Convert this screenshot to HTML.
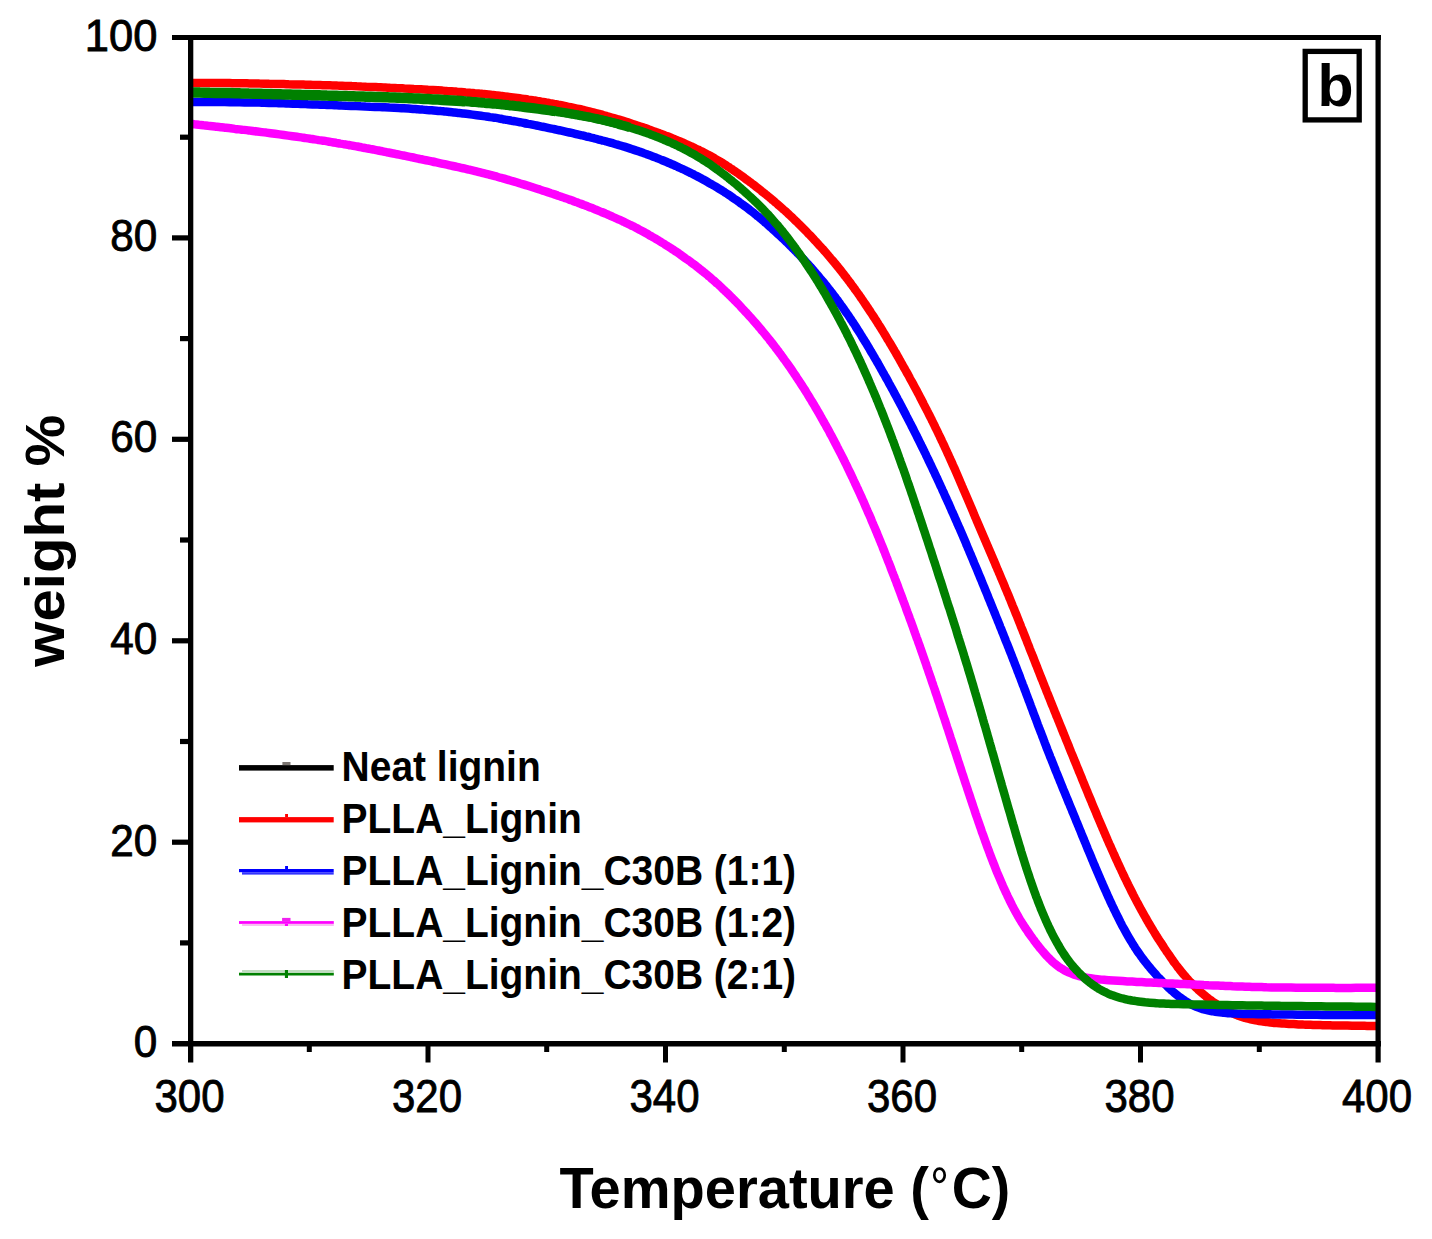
<!DOCTYPE html><html><head><meta charset="utf-8"><style>html,body{margin:0;padding:0;background:#fff;width:1432px;height:1239px;overflow:hidden}svg{display:block}text{font-family:"Liberation Sans",sans-serif}</style></head><body>
<svg width="1432" height="1239" viewBox="0 0 1432 1239">
<rect width="1432" height="1239" fill="#fff"/>
<defs><clipPath id="c"><rect x="193" y="40" width="1183" height="1001"/></clipPath></defs>
<g clip-path="url(#c)" fill="none" stroke-width="8.5" stroke-linejoin="round" stroke-linecap="butt">
<path d="M190.0,82.9 C190.8,82.9 193.3,82.9 195.0,82.9 C196.6,82.9 198.3,82.9 200.0,82.9 C201.6,82.9 203.3,83.0 204.9,83.0 C206.6,83.0 208.3,83.0 209.9,83.0 C211.6,83.0 213.2,83.0 214.9,83.0 C216.5,83.0 218.2,83.0 219.9,83.0 C221.5,83.1 223.2,83.1 224.8,83.1 C226.5,83.1 228.1,83.1 229.8,83.1 C231.4,83.1 233.1,83.2 234.7,83.2 C236.4,83.2 238.0,83.2 239.7,83.2 C241.3,83.3 243.0,83.3 244.6,83.3 C246.2,83.3 247.9,83.4 249.5,83.4 C251.2,83.4 252.8,83.4 254.4,83.5 C256.1,83.5 257.7,83.5 259.3,83.6 C261.0,83.6 262.6,83.6 264.2,83.7 C265.9,83.7 267.5,83.7 269.1,83.8 C270.8,83.8 272.4,83.8 274.0,83.9 C275.6,83.9 277.3,84.0 278.9,84.0 C280.5,84.0 282.1,84.1 283.8,84.1 C285.4,84.2 287.0,84.2 288.6,84.3 C290.3,84.3 291.9,84.3 293.5,84.4 C295.1,84.4 296.8,84.5 298.4,84.5 C300.0,84.6 301.6,84.6 303.3,84.6 C304.9,84.7 306.5,84.7 308.1,84.8 C309.8,84.8 311.4,84.9 313.0,84.9 C314.6,84.9 316.3,85.0 317.9,85.0 C319.5,85.1 321.1,85.1 322.7,85.2 C324.4,85.2 326.0,85.3 327.6,85.3 C329.2,85.3 330.8,85.4 332.5,85.4 C334.1,85.5 335.7,85.5 337.3,85.6 C338.9,85.6 340.5,85.7 342.2,85.7 C343.8,85.8 345.4,85.9 347.0,85.9 C348.6,86.0 350.2,86.0 351.8,86.1 C353.4,86.1 355.0,86.2 356.6,86.3 C358.2,86.3 359.8,86.4 361.4,86.5 C363.0,86.5 364.6,86.6 366.2,86.7 C367.8,86.7 369.4,86.8 371.0,86.9 C372.6,86.9 374.2,87.0 375.8,87.1 C377.4,87.2 379.0,87.2 380.6,87.3 C382.2,87.4 383.8,87.5 385.4,87.5 C387.0,87.6 388.5,87.7 390.1,87.8 C391.7,87.8 393.3,87.9 394.9,88.0 C396.5,88.1 398.1,88.2 399.7,88.2 C401.3,88.3 402.8,88.4 404.4,88.5 C406.0,88.5 407.6,88.6 409.2,88.7 C410.8,88.8 412.4,88.9 413.9,89.0 C415.5,89.0 417.1,89.1 418.7,89.2 C420.3,89.3 421.8,89.4 423.4,89.5 C425.0,89.6 426.6,89.7 428.1,89.8 C429.7,89.8 431.3,89.9 432.9,90.0 C434.4,90.1 436.0,90.2 437.6,90.3 C439.1,90.4 440.7,90.5 442.3,90.6 C443.8,90.7 445.4,90.8 446.9,91.0 C448.5,91.1 450.1,91.2 451.6,91.3 C453.2,91.4 454.7,91.5 456.3,91.6 C457.8,91.8 459.4,91.9 460.9,92.0 C462.4,92.1 464.0,92.2 465.5,92.4 C467.1,92.5 468.6,92.6 470.1,92.8 C471.7,92.9 473.2,93.0 474.7,93.2 C476.2,93.3 477.8,93.5 479.3,93.6 C480.8,93.8 482.3,93.9 483.8,94.1 C485.4,94.2 486.9,94.4 488.4,94.5 C489.9,94.7 491.4,94.8 492.9,95.0 C494.4,95.2 495.9,95.3 497.4,95.5 C498.9,95.7 500.4,95.8 501.9,96.0 C503.4,96.2 504.9,96.4 506.3,96.6 C507.8,96.7 509.3,96.9 510.8,97.1 C512.3,97.3 513.7,97.5 515.2,97.7 C516.7,97.9 518.1,98.1 519.6,98.3 C521.1,98.5 522.5,98.7 524.0,98.9 C525.4,99.1 526.9,99.3 528.3,99.6 C529.8,99.8 531.2,100.0 532.7,100.2 C534.1,100.4 535.6,100.7 537.0,100.9 C538.4,101.1 539.9,101.4 541.3,101.6 C542.7,101.8 544.1,102.1 545.6,102.3 C547.0,102.6 548.4,102.8 549.8,103.1 C551.2,103.3 552.6,103.6 554.0,103.9 C555.4,104.1 556.8,104.4 558.2,104.7 C559.6,104.9 561.0,105.2 562.4,105.5 C563.8,105.8 565.2,106.0 566.6,106.3 C567.9,106.6 569.3,106.9 570.7,107.2 C572.1,107.5 573.4,107.8 574.8,108.1 C576.2,108.4 577.5,108.7 578.9,109.0 C580.2,109.3 581.6,109.6 583.0,109.9 C584.3,110.3 585.6,110.6 587.0,110.9 C588.3,111.2 589.7,111.6 591.0,111.9 C592.3,112.2 593.7,112.6 595.0,112.9 C596.3,113.2 597.6,113.6 599.0,113.9 C600.3,114.3 601.6,114.6 602.9,115.0 C604.2,115.4 605.5,115.7 606.8,116.1 C608.1,116.4 609.4,116.8 610.7,117.2 C612.0,117.6 613.3,117.9 614.6,118.3 C615.9,118.7 617.2,119.1 618.4,119.5 C619.7,119.8 621.0,120.2 622.3,120.6 C623.5,121.0 624.8,121.4 626.1,121.8 C627.4,122.2 628.6,122.6 629.9,123.0 C631.1,123.4 632.4,123.8 633.6,124.3 C634.9,124.7 636.2,125.1 637.4,125.5 C638.7,125.9 639.9,126.3 641.1,126.8 C642.4,127.2 643.6,127.6 644.9,128.0 C646.1,128.5 647.3,128.9 648.6,129.3 C649.8,129.8 651.0,130.2 652.2,130.7 C653.5,131.1 654.7,131.5 655.9,132.0 C657.1,132.4 658.4,132.9 659.6,133.3 C660.8,133.8 662.0,134.2 663.2,134.7 C664.4,135.2 665.6,135.6 666.8,136.1 C668.0,136.5 669.2,137.0 670.4,137.5 C671.6,138.0 672.8,138.4 674.0,138.9 C675.2,139.4 676.4,139.9 677.5,140.4 C678.7,140.9 679.9,141.4 681.1,141.8 C682.2,142.3 683.4,142.8 684.5,143.4 C685.7,143.9 686.9,144.4 688.0,144.9 C689.2,145.4 690.3,145.9 691.4,146.5 C692.6,147.0 693.7,147.5 694.8,148.1 C696.0,148.6 697.1,149.1 698.2,149.7 C699.3,150.2 700.5,150.8 701.6,151.3 C702.7,151.9 703.8,152.5 704.9,153.0 C706.0,153.6 707.0,154.2 708.1,154.8 C709.2,155.4 710.3,155.9 711.4,156.5 C712.4,157.1 713.5,157.7 714.6,158.3 C715.6,158.9 716.7,159.6 717.7,160.2 C718.8,160.8 719.8,161.4 720.8,162.1 C721.9,162.7 722.9,163.3 723.9,164.0 C725.0,164.6 726.0,165.3 727.0,165.9 C728.0,166.6 729.0,167.2 730.0,167.9 C731.0,168.6 732.0,169.2 733.0,169.9 C734.0,170.6 735.0,171.3 736.0,171.9 C737.0,172.6 737.9,173.3 738.9,174.0 C739.9,174.7 740.9,175.4 741.8,176.1 C742.8,176.8 743.8,177.5 744.7,178.2 C745.7,178.9 746.7,179.6 747.6,180.3 C748.6,181.0 749.5,181.7 750.5,182.4 C751.4,183.1 752.4,183.9 753.3,184.6 C754.3,185.3 755.2,186.0 756.1,186.8 C757.1,187.5 758.0,188.2 759.0,188.9 C759.9,189.7 760.8,190.4 761.7,191.2 C762.7,191.9 763.6,192.6 764.5,193.4 C765.4,194.1 766.4,194.9 767.3,195.6 C768.2,196.4 769.1,197.1 770.0,197.9 C770.9,198.6 771.8,199.4 772.7,200.2 C773.6,200.9 774.5,201.7 775.4,202.5 C776.3,203.2 777.2,204.0 778.1,204.8 C779.0,205.5 779.9,206.3 780.8,207.1 C781.7,207.9 782.6,208.7 783.4,209.5 C784.3,210.2 785.2,211.0 786.1,211.8 C786.9,212.6 787.8,213.4 788.7,214.2 C789.5,215.0 790.4,215.8 791.3,216.6 C792.1,217.5 793.0,218.3 793.8,219.1 C794.7,219.9 795.5,220.7 796.4,221.5 C797.2,222.4 798.1,223.2 798.9,224.0 C799.7,224.8 800.6,225.7 801.4,226.5 C802.2,227.3 803.1,228.2 803.9,229.0 C804.7,229.8 805.6,230.7 806.4,231.5 C807.2,232.4 808.0,233.2 808.8,234.1 C809.7,234.9 810.5,235.8 811.3,236.6 C812.1,237.5 812.9,238.3 813.7,239.2 C814.5,240.0 815.3,240.9 816.1,241.8 C816.9,242.6 817.7,243.5 818.5,244.4 C819.3,245.2 820.1,246.1 820.9,247.0 C821.7,247.9 822.5,248.8 823.3,249.6 C824.0,250.5 824.8,251.4 825.6,252.3 C826.4,253.2 827.2,254.1 827.9,255.0 C828.7,255.9 829.5,256.8 830.2,257.7 C831.0,258.6 831.8,259.5 832.5,260.4 C833.3,261.3 834.0,262.2 834.8,263.1 C835.5,264.0 836.3,264.9 837.0,265.9 C837.8,266.8 838.5,267.7 839.3,268.6 C840.0,269.5 840.8,270.5 841.5,271.4 C842.2,272.3 843.0,273.3 843.7,274.2 C844.4,275.2 845.1,276.1 845.9,277.0 C846.6,278.0 847.3,278.9 848.0,279.9 C848.7,280.8 849.5,281.8 850.2,282.7 C850.9,283.7 851.6,284.6 852.3,285.6 C853.0,286.6 853.7,287.5 854.4,288.5 C855.1,289.5 855.8,290.4 856.5,291.4 C857.2,292.4 857.9,293.4 858.6,294.3 C859.3,295.3 859.9,296.3 860.6,297.3 C861.3,298.3 862.0,299.2 862.7,300.2 C863.4,301.2 864.0,302.2 864.7,303.2 C865.4,304.2 866.1,305.2 866.7,306.2 C867.4,307.2 868.1,308.2 868.7,309.2 C869.4,310.2 870.1,311.2 870.7,312.2 C871.4,313.2 872.0,314.2 872.7,315.2 C873.3,316.2 874.0,317.2 874.7,318.2 C875.3,319.3 876.0,320.3 876.6,321.3 C877.3,322.3 877.9,323.3 878.5,324.4 C879.2,325.4 879.8,326.4 880.5,327.4 C881.1,328.5 881.7,329.5 882.4,330.5 C883.0,331.6 883.6,332.6 884.3,333.6 C884.9,334.7 885.5,335.7 886.2,336.7 C886.8,337.8 887.4,338.8 888.0,339.9 C888.7,340.9 889.3,341.9 889.9,343.0 C890.5,344.0 891.2,345.1 891.8,346.1 C892.4,347.2 893.0,348.2 893.6,349.3 C894.2,350.3 894.8,351.4 895.5,352.4 C896.1,353.5 896.7,354.6 897.3,355.6 C897.9,356.7 898.5,357.7 899.1,358.8 C899.7,359.9 900.3,360.9 900.9,362.0 C901.5,363.1 902.1,364.1 902.7,365.2 C903.3,366.3 903.9,367.3 904.5,368.4 C905.1,369.5 905.7,370.5 906.3,371.6 C906.9,372.7 907.5,373.8 908.1,374.8 C908.7,375.9 909.3,377.0 909.8,378.1 C910.4,379.1 911.0,380.2 911.6,381.3 C912.2,382.4 912.8,383.5 913.4,384.5 C913.9,385.6 914.5,386.7 915.1,387.8 C915.7,388.9 916.3,390.0 916.9,391.0 C917.4,392.1 918.0,393.2 918.6,394.3 C919.2,395.4 919.7,396.5 920.3,397.6 C920.9,398.7 921.5,399.8 922.0,400.9 C922.6,402.0 923.2,403.1 923.7,404.2 C924.3,405.3 924.9,406.4 925.4,407.5 C926.0,408.6 926.6,409.7 927.1,410.8 C927.7,411.9 928.2,413.0 928.8,414.1 C929.4,415.2 929.9,416.3 930.5,417.4 C931.0,418.5 931.6,419.6 932.1,420.8 C932.7,421.9 933.2,423.0 933.8,424.1 C934.3,425.2 934.9,426.3 935.4,427.5 C936.0,428.6 936.5,429.7 937.1,430.8 C937.6,431.9 938.2,433.1 938.7,434.2 C939.3,435.3 939.8,436.4 940.3,437.6 C940.9,438.7 941.4,439.8 941.9,441.0 C942.5,442.1 943.0,443.2 943.5,444.4 C944.1,445.5 944.6,446.6 945.1,447.8 C945.6,448.9 946.2,450.1 946.7,451.2 C947.2,452.3 947.7,453.5 948.3,454.6 C948.8,455.8 949.3,456.9 949.8,458.1 C950.3,459.2 950.9,460.4 951.4,461.5 C951.9,462.7 952.4,463.8 952.9,465.0 C953.4,466.1 953.9,467.3 954.5,468.4 C955.0,469.6 955.5,470.8 956.0,471.9 C956.5,473.1 957.0,474.2 957.5,475.4 C958.0,476.6 958.5,477.7 959.0,478.9 C959.5,480.1 960.0,481.2 960.5,482.4 C961.0,483.5 961.5,484.7 962.0,485.9 C962.5,487.0 963.0,488.2 963.5,489.4 C964.0,490.5 964.5,491.7 965.0,492.9 C965.5,494.1 966.0,495.2 966.5,496.4 C967.0,497.6 967.5,498.7 968.0,499.9 C968.5,501.1 969.0,502.2 969.5,503.4 C970.0,504.6 970.5,505.8 971.0,506.9 C971.5,508.1 972.0,509.3 972.5,510.4 C973.0,511.6 973.5,512.8 973.9,514.0 C974.4,515.1 974.9,516.3 975.4,517.5 C975.9,518.6 976.4,519.8 976.9,521.0 C977.4,522.2 977.9,523.3 978.4,524.5 C978.9,525.7 979.4,526.8 979.9,528.0 C980.4,529.2 980.9,530.3 981.4,531.5 C981.9,532.7 982.4,533.8 982.9,535.0 C983.4,536.2 983.9,537.3 984.4,538.5 C984.9,539.7 985.4,540.9 985.9,542.0 C986.4,543.2 986.9,544.4 987.4,545.5 C987.9,546.7 988.4,547.9 988.9,549.0 C989.4,550.2 989.9,551.4 990.4,552.5 C990.9,553.7 991.4,554.9 991.9,556.0 C992.4,557.2 992.9,558.4 993.4,559.5 C993.9,560.7 994.4,561.9 994.9,563.0 C995.4,564.2 995.9,565.4 996.3,566.6 C996.8,567.7 997.3,568.9 997.8,570.1 C998.3,571.2 998.8,572.4 999.3,573.6 C999.8,574.7 1000.3,575.9 1000.8,577.1 C1001.3,578.3 1001.8,579.4 1002.3,580.6 C1002.8,581.8 1003.3,583.0 1003.8,584.1 C1004.3,585.3 1004.8,586.5 1005.2,587.7 C1005.7,588.8 1006.2,590.0 1006.7,591.2 C1007.2,592.4 1007.7,593.5 1008.2,594.7 C1008.7,595.9 1009.2,597.1 1009.6,598.3 C1010.1,599.4 1010.6,600.6 1011.1,601.8 C1011.6,603.0 1012.1,604.2 1012.5,605.4 C1013.0,606.5 1013.5,607.7 1014.0,608.9 C1014.5,610.1 1014.9,611.3 1015.4,612.5 C1015.9,613.7 1016.4,614.9 1016.9,616.0 C1017.3,617.2 1017.8,618.4 1018.3,619.6 C1018.8,620.8 1019.2,622.0 1019.7,623.2 C1020.2,624.4 1020.7,625.6 1021.1,626.8 C1021.6,628.0 1022.1,629.2 1022.6,630.3 C1023.0,631.5 1023.5,632.7 1024.0,633.9 C1024.4,635.1 1024.9,636.3 1025.4,637.5 C1025.9,638.7 1026.3,639.9 1026.8,641.1 C1027.3,642.3 1027.7,643.5 1028.2,644.7 C1028.7,645.9 1029.2,647.1 1029.6,648.3 C1030.1,649.5 1030.6,650.7 1031.0,651.9 C1031.5,653.1 1032.0,654.3 1032.5,655.4 C1032.9,656.6 1033.4,657.8 1033.9,659.0 C1034.3,660.2 1034.8,661.4 1035.3,662.6 C1035.7,663.8 1036.2,665.0 1036.7,666.2 C1037.2,667.4 1037.6,668.6 1038.1,669.8 C1038.6,671.0 1039.0,672.2 1039.5,673.4 C1040.0,674.6 1040.5,675.8 1040.9,677.0 C1041.4,678.2 1041.9,679.4 1042.4,680.5 C1042.8,681.7 1043.3,682.9 1043.8,684.1 C1044.3,685.3 1044.7,686.5 1045.2,687.7 C1045.7,688.9 1046.2,690.1 1046.6,691.3 C1047.1,692.5 1047.6,693.7 1048.1,694.8 C1048.5,696.0 1049.0,697.2 1049.5,698.4 C1050.0,699.6 1050.4,700.8 1050.9,702.0 C1051.4,703.2 1051.9,704.4 1052.3,705.6 C1052.8,706.7 1053.3,707.9 1053.8,709.1 C1054.3,710.3 1054.7,711.5 1055.2,712.7 C1055.7,713.9 1056.2,715.1 1056.6,716.3 C1057.1,717.4 1057.6,718.6 1058.1,719.8 C1058.6,721.0 1059.0,722.2 1059.5,723.4 C1060.0,724.6 1060.5,725.8 1061.0,726.9 C1061.4,728.1 1061.9,729.3 1062.4,730.5 C1062.9,731.7 1063.4,732.9 1063.8,734.1 C1064.3,735.2 1064.8,736.4 1065.3,737.6 C1065.8,738.8 1066.2,740.0 1066.7,741.2 C1067.2,742.4 1067.7,743.6 1068.2,744.7 C1068.6,745.9 1069.1,747.1 1069.6,748.3 C1070.1,749.5 1070.6,750.7 1071.0,751.9 C1071.5,753.0 1072.0,754.2 1072.5,755.4 C1073.0,756.6 1073.5,757.8 1073.9,759.0 C1074.4,760.2 1074.9,761.3 1075.4,762.5 C1075.9,763.7 1076.3,764.9 1076.8,766.1 C1077.3,767.3 1077.8,768.5 1078.3,769.6 C1078.7,770.8 1079.2,772.0 1079.7,773.2 C1080.2,774.4 1080.7,775.6 1081.2,776.7 C1081.6,777.9 1082.1,779.1 1082.6,780.3 C1083.1,781.5 1083.6,782.7 1084.1,783.8 C1084.5,785.0 1085.0,786.2 1085.5,787.4 C1086.0,788.6 1086.5,789.8 1087.0,790.9 C1087.5,792.1 1087.9,793.3 1088.4,794.5 C1088.9,795.7 1089.4,796.8 1089.9,798.0 C1090.4,799.2 1090.9,800.4 1091.4,801.5 C1091.8,802.7 1092.3,803.9 1092.8,805.1 C1093.3,806.3 1093.8,807.4 1094.3,808.6 C1094.8,809.8 1095.3,811.0 1095.8,812.1 C1096.3,813.3 1096.8,814.5 1097.2,815.7 C1097.7,816.8 1098.2,818.0 1098.7,819.2 C1099.2,820.3 1099.7,821.5 1100.2,822.7 C1100.7,823.9 1101.2,825.0 1101.7,826.2 C1102.2,827.4 1102.7,828.5 1103.2,829.7 C1103.7,830.9 1104.2,832.0 1104.7,833.2 C1105.2,834.4 1105.7,835.5 1106.2,836.7 C1106.7,837.9 1107.2,839.0 1107.7,840.2 C1108.2,841.3 1108.7,842.5 1109.2,843.7 C1109.8,844.8 1110.3,846.0 1110.8,847.1 C1111.3,848.3 1111.8,849.4 1112.3,850.6 C1112.8,851.7 1113.3,852.9 1113.9,854.0 C1114.4,855.2 1114.9,856.3 1115.4,857.5 C1115.9,858.6 1116.4,859.8 1117.0,860.9 C1117.5,862.1 1118.0,863.2 1118.5,864.4 C1119.1,865.5 1119.6,866.6 1120.1,867.8 C1120.7,868.9 1121.2,870.0 1121.7,871.2 C1122.3,872.3 1122.8,873.4 1123.3,874.6 C1123.9,875.7 1124.4,876.8 1124.9,878.0 C1125.5,879.1 1126.0,880.2 1126.6,881.3 C1127.1,882.5 1127.7,883.6 1128.2,884.7 C1128.8,885.8 1129.3,886.9 1129.9,888.0 C1130.4,889.1 1131.0,890.3 1131.5,891.4 C1132.1,892.5 1132.7,893.6 1133.2,894.7 C1133.8,895.8 1134.4,896.9 1134.9,898.0 C1135.5,899.1 1136.1,900.2 1136.6,901.3 C1137.2,902.4 1137.8,903.4 1138.4,904.5 C1138.9,905.6 1139.5,906.7 1140.1,907.8 C1140.7,908.9 1141.3,909.9 1141.9,911.0 C1142.5,912.1 1143.1,913.2 1143.7,914.2 C1144.3,915.3 1144.9,916.4 1145.5,917.4 C1146.1,918.5 1146.7,919.6 1147.3,920.6 C1147.9,921.7 1148.5,922.7 1149.1,923.8 C1149.7,924.8 1150.4,925.9 1151.0,926.9 C1151.6,928.0 1152.2,929.0 1152.9,930.0 C1153.5,931.1 1154.1,932.1 1154.8,933.1 C1155.4,934.2 1156.0,935.2 1156.7,936.2 C1157.3,937.2 1158.0,938.3 1158.6,939.3 C1159.3,940.3 1159.9,941.3 1160.6,942.3 C1161.2,943.3 1161.9,944.3 1162.6,945.3 C1163.2,946.3 1163.9,947.4 1164.5,948.4 C1165.2,949.4 1165.9,950.4 1166.5,951.4 C1167.2,952.4 1167.9,953.3 1168.6,954.3 C1169.2,955.3 1169.9,956.3 1170.6,957.3 C1171.3,958.3 1172.0,959.3 1172.7,960.2 C1173.3,961.2 1174.0,962.2 1174.8,963.1 C1175.5,964.1 1176.2,965.1 1176.9,966.0 C1177.6,967.0 1178.3,967.9 1179.1,968.8 C1179.8,969.8 1180.5,970.7 1181.3,971.6 C1182.0,972.5 1182.8,973.5 1183.5,974.4 C1184.3,975.3 1185.1,976.1 1185.9,977.0 C1186.6,977.9 1187.4,978.8 1188.2,979.7 C1189.0,980.5 1189.8,981.4 1190.6,982.3 C1191.5,983.1 1192.3,984.0 1193.1,984.8 C1193.9,985.6 1194.8,986.5 1195.6,987.3 C1196.5,988.1 1197.3,988.9 1198.2,989.7 C1199.1,990.5 1199.9,991.3 1200.8,992.1 C1201.7,992.9 1202.6,993.6 1203.5,994.4 C1204.4,995.2 1205.3,995.9 1206.2,996.7 C1207.2,997.4 1208.1,998.1 1209.0,998.9 C1210.0,999.6 1210.9,1000.3 1211.9,1001.0 C1212.8,1001.7 1213.8,1002.4 1214.8,1003.1 C1215.8,1003.8 1216.8,1004.5 1217.8,1005.1 C1218.8,1005.8 1219.8,1006.4 1220.8,1007.1 C1221.9,1007.7 1222.9,1008.3 1224.0,1008.9 C1225.0,1009.5 1226.1,1010.1 1227.2,1010.7 C1228.3,1011.3 1229.4,1011.8 1230.5,1012.4 C1231.7,1012.9 1232.8,1013.4 1234.0,1013.9 C1235.1,1014.4 1236.3,1014.9 1237.5,1015.4 C1238.7,1015.8 1240.0,1016.3 1241.2,1016.7 C1242.5,1017.1 1243.8,1017.5 1245.0,1017.9 C1246.3,1018.2 1247.7,1018.6 1249.0,1018.9 C1250.3,1019.2 1251.7,1019.5 1253.1,1019.8 C1254.5,1020.1 1255.9,1020.4 1257.3,1020.6 C1258.7,1020.9 1260.1,1021.1 1261.6,1021.3 C1263.0,1021.5 1264.5,1021.8 1266.0,1021.9 C1267.4,1022.1 1268.9,1022.3 1270.4,1022.5 C1271.9,1022.6 1273.5,1022.8 1275.0,1022.9 C1276.5,1023.1 1278.1,1023.2 1279.6,1023.3 C1281.2,1023.4 1282.7,1023.5 1284.3,1023.6 C1285.8,1023.7 1287.4,1023.8 1289.0,1023.9 C1290.6,1024.0 1292.2,1024.1 1293.8,1024.1 C1295.3,1024.2 1296.9,1024.3 1298.5,1024.4 C1300.1,1024.4 1301.7,1024.5 1303.3,1024.6 C1305.0,1024.6 1306.6,1024.7 1308.2,1024.7 C1309.8,1024.8 1311.4,1024.8 1313.0,1024.9 C1314.6,1024.9 1316.2,1025.0 1317.9,1025.0 C1319.5,1025.1 1321.1,1025.1 1322.7,1025.2 C1324.4,1025.2 1326.0,1025.2 1327.6,1025.3 C1329.3,1025.3 1330.9,1025.4 1332.5,1025.4 C1334.1,1025.4 1335.8,1025.4 1337.4,1025.5 C1339.1,1025.5 1340.7,1025.5 1342.3,1025.6 C1344.0,1025.6 1345.6,1025.6 1347.3,1025.6 C1348.9,1025.7 1350.5,1025.7 1352.2,1025.7 C1353.8,1025.7 1355.5,1025.8 1357.1,1025.8 C1358.8,1025.8 1360.4,1025.8 1362.1,1025.8 C1363.7,1025.8 1365.4,1025.9 1367.0,1025.9 C1368.7,1025.9 1370.3,1025.9 1372.0,1025.9 C1373.6,1026.0 1375.6,1026.0 1376.9,1026.0 C1378.3,1026.0 1379.5,1026.0 1380.0,1026.0" stroke="#ff0000"/>
<path d="M190.0,102.0 C190.8,102.0 193.3,102.0 195.0,102.0 C196.7,102.0 198.3,102.0 200.0,102.0 C201.6,102.0 203.3,102.0 205.0,102.0 C206.6,102.0 208.3,102.0 209.9,102.1 C211.6,102.1 213.3,102.1 214.9,102.1 C216.6,102.1 218.2,102.1 219.9,102.1 C221.6,102.1 223.2,102.1 224.9,102.1 C226.5,102.2 228.2,102.2 229.8,102.2 C231.5,102.2 233.1,102.2 234.8,102.2 C236.4,102.2 238.1,102.3 239.7,102.3 C241.4,102.3 243.0,102.3 244.6,102.4 C246.3,102.4 247.9,102.4 249.6,102.4 C251.2,102.5 252.8,102.5 254.5,102.5 C256.1,102.6 257.7,102.6 259.4,102.6 C261.0,102.7 262.6,102.7 264.2,102.8 C265.9,102.8 267.5,102.8 269.1,102.9 C270.7,102.9 272.4,103.0 274.0,103.0 C275.6,103.1 277.2,103.1 278.8,103.2 C280.4,103.2 282.1,103.3 283.7,103.3 C285.3,103.4 286.9,103.4 288.5,103.5 C290.1,103.5 291.7,103.6 293.3,103.7 C295.0,103.7 296.6,103.8 298.2,103.8 C299.8,103.9 301.4,103.9 303.0,104.0 C304.6,104.1 306.2,104.1 307.8,104.2 C309.4,104.2 311.0,104.3 312.6,104.4 C314.2,104.4 315.9,104.5 317.5,104.5 C319.1,104.6 320.7,104.7 322.3,104.7 C323.9,104.8 325.5,104.8 327.1,104.9 C328.7,105.0 330.3,105.0 331.9,105.1 C333.5,105.2 335.1,105.2 336.7,105.3 C338.3,105.4 339.9,105.4 341.5,105.5 C343.1,105.5 344.7,105.6 346.3,105.7 C347.9,105.7 349.5,105.8 351.1,105.9 C352.7,105.9 354.3,106.0 355.9,106.1 C357.5,106.1 359.1,106.2 360.7,106.3 C362.3,106.3 363.9,106.4 365.5,106.5 C367.1,106.5 368.7,106.6 370.3,106.7 C371.9,106.7 373.5,106.8 375.1,106.9 C376.7,106.9 378.3,107.0 379.9,107.1 C381.5,107.2 383.1,107.2 384.7,107.3 C386.3,107.4 387.9,107.5 389.4,107.6 C391.0,107.6 392.6,107.7 394.2,107.8 C395.8,107.9 397.4,108.0 398.9,108.1 C400.5,108.2 402.1,108.2 403.7,108.3 C405.2,108.4 406.8,108.5 408.4,108.6 C409.9,108.7 411.5,108.8 413.1,108.9 C414.6,109.0 416.2,109.2 417.7,109.3 C419.3,109.4 420.8,109.5 422.4,109.6 C423.9,109.7 425.5,109.8 427.0,110.0 C428.6,110.1 430.1,110.2 431.7,110.3 C433.2,110.5 434.7,110.6 436.3,110.7 C437.8,110.9 439.3,111.0 440.9,111.1 C442.4,111.3 443.9,111.4 445.4,111.6 C446.9,111.7 448.5,111.9 450.0,112.0 C451.5,112.2 453.0,112.3 454.5,112.5 C456.0,112.7 457.5,112.8 459.0,113.0 C460.5,113.2 462.0,113.3 463.5,113.5 C465.0,113.7 466.5,113.9 468.0,114.0 C469.4,114.2 470.9,114.4 472.4,114.6 C473.9,114.8 475.4,115.0 476.8,115.2 C478.3,115.4 479.8,115.6 481.2,115.8 C482.7,116.0 484.1,116.2 485.6,116.4 C487.0,116.6 488.5,116.8 489.9,117.1 C491.4,117.3 492.8,117.5 494.3,117.7 C495.7,118.0 497.1,118.2 498.6,118.4 C500.0,118.7 501.4,118.9 502.8,119.2 C504.3,119.4 505.7,119.7 507.1,119.9 C508.5,120.2 509.9,120.4 511.3,120.7 C512.7,120.9 514.1,121.2 515.6,121.4 C517.0,121.7 518.4,122.0 519.8,122.2 C521.2,122.5 522.6,122.8 524.0,123.0 C525.3,123.3 526.7,123.6 528.1,123.9 C529.5,124.1 530.9,124.4 532.3,124.7 C533.7,125.0 535.1,125.3 536.5,125.5 C537.9,125.8 539.2,126.1 540.6,126.4 C542.0,126.7 543.4,126.9 544.8,127.2 C546.2,127.5 547.5,127.8 548.9,128.1 C550.3,128.4 551.7,128.7 553.1,128.9 C554.4,129.2 555.8,129.5 557.2,129.8 C558.6,130.1 559.9,130.4 561.3,130.7 C562.7,131.0 564.0,131.3 565.4,131.6 C566.8,131.9 568.1,132.2 569.5,132.5 C570.9,132.8 572.2,133.1 573.6,133.4 C574.9,133.7 576.3,134.0 577.6,134.4 C579.0,134.7 580.3,135.0 581.7,135.3 C583.0,135.6 584.4,135.9 585.7,136.3 C587.1,136.6 588.4,136.9 589.8,137.2 C591.1,137.6 592.4,137.9 593.8,138.2 C595.1,138.6 596.4,138.9 597.7,139.3 C599.1,139.6 600.4,139.9 601.7,140.3 C603.0,140.6 604.3,141.0 605.7,141.3 C607.0,141.7 608.3,142.1 609.6,142.4 C610.9,142.8 612.2,143.1 613.5,143.5 C614.8,143.9 616.1,144.3 617.4,144.6 C618.7,145.0 619.9,145.4 621.2,145.8 C622.5,146.2 623.8,146.5 625.1,146.9 C626.3,147.3 627.6,147.7 628.9,148.1 C630.1,148.5 631.4,148.9 632.6,149.4 C633.9,149.8 635.2,150.2 636.4,150.6 C637.7,151.0 638.9,151.4 640.1,151.9 C641.4,152.3 642.6,152.7 643.8,153.2 C645.1,153.6 646.3,154.0 647.5,154.5 C648.7,154.9 649.9,155.4 651.2,155.8 C652.4,156.3 653.6,156.8 654.8,157.2 C656.0,157.7 657.2,158.1 658.4,158.6 C659.6,159.1 660.8,159.6 661.9,160.1 C663.1,160.5 664.3,161.0 665.5,161.5 C666.7,162.0 667.8,162.5 669.0,163.0 C670.2,163.5 671.3,164.0 672.5,164.5 C673.7,165.0 674.8,165.5 676.0,166.0 C677.1,166.5 678.3,167.1 679.4,167.6 C680.6,168.1 681.7,168.6 682.8,169.2 C684.0,169.7 685.1,170.2 686.2,170.8 C687.3,171.3 688.5,171.9 689.6,172.4 C690.7,173.0 691.8,173.5 692.9,174.1 C694.0,174.7 695.1,175.2 696.2,175.8 C697.3,176.4 698.4,176.9 699.5,177.5 C700.6,178.1 701.7,178.7 702.7,179.3 C703.8,179.9 704.9,180.4 706.0,181.0 C707.0,181.6 708.1,182.2 709.1,182.9 C710.2,183.5 711.3,184.1 712.3,184.7 C713.4,185.3 714.4,185.9 715.5,186.5 C716.5,187.2 717.5,187.8 718.6,188.4 C719.6,189.1 720.6,189.7 721.7,190.3 C722.7,191.0 723.7,191.6 724.7,192.3 C725.7,192.9 726.7,193.6 727.8,194.2 C728.8,194.9 729.8,195.6 730.8,196.2 C731.8,196.9 732.8,197.6 733.7,198.3 C734.7,198.9 735.7,199.6 736.7,200.3 C737.7,201.0 738.7,201.7 739.6,202.4 C740.6,203.1 741.6,203.8 742.5,204.5 C743.5,205.2 744.5,205.9 745.4,206.6 C746.4,207.3 747.3,208.0 748.3,208.7 C749.2,209.5 750.1,210.2 751.1,210.9 C752.0,211.7 752.9,212.4 753.9,213.1 C754.8,213.9 755.7,214.6 756.6,215.4 C757.6,216.1 758.5,216.9 759.4,217.6 C760.3,218.4 761.2,219.1 762.1,219.9 C763.0,220.7 763.9,221.4 764.8,222.2 C765.7,223.0 766.6,223.7 767.5,224.5 C768.4,225.3 769.3,226.1 770.1,226.9 C771.0,227.6 771.9,228.4 772.8,229.2 C773.7,230.0 774.5,230.8 775.4,231.6 C776.3,232.4 777.1,233.2 778.0,234.0 C778.9,234.8 779.7,235.6 780.6,236.4 C781.5,237.2 782.3,238.0 783.2,238.8 C784.0,239.6 784.9,240.5 785.7,241.3 C786.6,242.1 787.4,242.9 788.3,243.7 C789.1,244.6 789.9,245.4 790.8,246.2 C791.6,247.1 792.4,247.9 793.3,248.7 C794.1,249.6 794.9,250.4 795.8,251.2 C796.6,252.1 797.4,252.9 798.2,253.8 C799.0,254.6 799.8,255.5 800.7,256.3 C801.5,257.2 802.3,258.1 803.1,258.9 C803.9,259.8 804.7,260.6 805.5,261.5 C806.3,262.4 807.1,263.2 807.9,264.1 C808.7,265.0 809.5,265.9 810.3,266.7 C811.0,267.6 811.8,268.5 812.6,269.4 C813.4,270.3 814.2,271.2 814.9,272.1 C815.7,273.0 816.5,273.9 817.2,274.8 C818.0,275.6 818.8,276.6 819.5,277.5 C820.3,278.4 821.1,279.3 821.8,280.2 C822.6,281.1 823.3,282.0 824.1,282.9 C824.8,283.8 825.6,284.8 826.3,285.7 C827.0,286.6 827.8,287.5 828.5,288.5 C829.3,289.4 830.0,290.3 830.7,291.3 C831.4,292.2 832.2,293.2 832.9,294.1 C833.6,295.0 834.3,296.0 835.1,296.9 C835.8,297.9 836.5,298.9 837.2,299.8 C837.9,300.8 838.6,301.7 839.3,302.7 C840.0,303.7 840.7,304.6 841.4,305.6 C842.1,306.6 842.8,307.5 843.5,308.5 C844.2,309.5 844.8,310.5 845.5,311.5 C846.2,312.5 846.9,313.4 847.6,314.4 C848.2,315.4 848.9,316.4 849.6,317.4 C850.3,318.4 850.9,319.4 851.6,320.4 C852.3,321.4 852.9,322.4 853.6,323.4 C854.2,324.4 854.9,325.4 855.6,326.4 C856.2,327.5 856.9,328.5 857.5,329.5 C858.2,330.5 858.8,331.5 859.5,332.5 C860.1,333.6 860.7,334.6 861.4,335.6 C862.0,336.6 862.7,337.7 863.3,338.7 C863.9,339.7 864.6,340.8 865.2,341.8 C865.8,342.8 866.5,343.9 867.1,344.9 C867.7,346.0 868.3,347.0 869.0,348.0 C869.6,349.1 870.2,350.1 870.8,351.2 C871.4,352.2 872.1,353.3 872.7,354.3 C873.3,355.4 873.9,356.4 874.5,357.5 C875.1,358.5 875.7,359.6 876.4,360.6 C877.0,361.7 877.6,362.8 878.2,363.8 C878.8,364.9 879.4,365.9 880.0,367.0 C880.6,368.1 881.2,369.1 881.8,370.2 C882.4,371.3 883.0,372.3 883.6,373.4 C884.2,374.5 884.8,375.5 885.4,376.6 C886.0,377.7 886.6,378.8 887.2,379.8 C887.8,380.9 888.4,382.0 888.9,383.1 C889.5,384.1 890.1,385.2 890.7,386.3 C891.3,387.4 891.9,388.4 892.5,389.5 C893.1,390.6 893.7,391.7 894.2,392.8 C894.8,393.8 895.4,394.9 896.0,396.0 C896.6,397.1 897.2,398.2 897.7,399.3 C898.3,400.4 898.9,401.4 899.5,402.5 C900.0,403.6 900.6,404.7 901.2,405.8 C901.8,406.9 902.3,408.0 902.9,409.1 C903.5,410.2 904.1,411.3 904.6,412.4 C905.2,413.5 905.8,414.6 906.3,415.7 C906.9,416.8 907.5,417.9 908.0,419.0 C908.6,420.1 909.2,421.2 909.7,422.3 C910.3,423.4 910.9,424.5 911.4,425.6 C912.0,426.7 912.6,427.8 913.1,428.9 C913.7,430.0 914.2,431.1 914.8,432.2 C915.3,433.3 915.9,434.4 916.5,435.5 C917.0,436.7 917.6,437.8 918.1,438.9 C918.7,440.0 919.2,441.1 919.8,442.2 C920.3,443.3 920.9,444.5 921.4,445.6 C922.0,446.7 922.5,447.8 923.1,448.9 C923.6,450.1 924.2,451.2 924.7,452.3 C925.3,453.4 925.8,454.5 926.3,455.7 C926.9,456.8 927.4,457.9 928.0,459.0 C928.5,460.2 929.0,461.3 929.6,462.4 C930.1,463.5 930.7,464.7 931.2,465.8 C931.7,466.9 932.3,468.1 932.8,469.2 C933.3,470.3 933.9,471.5 934.4,472.6 C934.9,473.7 935.5,474.9 936.0,476.0 C936.5,477.1 937.1,478.3 937.6,479.4 C938.1,480.6 938.6,481.7 939.2,482.8 C939.7,484.0 940.2,485.1 940.7,486.3 C941.3,487.4 941.8,488.5 942.3,489.7 C942.8,490.8 943.4,492.0 943.9,493.1 C944.4,494.3 944.9,495.4 945.4,496.6 C946.0,497.7 946.5,498.8 947.0,500.0 C947.5,501.1 948.0,502.3 948.6,503.4 C949.1,504.6 949.6,505.8 950.1,506.9 C950.6,508.1 951.1,509.2 951.6,510.4 C952.1,511.5 952.7,512.7 953.2,513.8 C953.7,515.0 954.2,516.1 954.7,517.3 C955.2,518.5 955.7,519.6 956.2,520.8 C956.7,521.9 957.2,523.1 957.7,524.3 C958.2,525.4 958.7,526.6 959.3,527.7 C959.8,528.9 960.3,530.1 960.8,531.2 C961.3,532.4 961.8,533.6 962.3,534.7 C962.8,535.9 963.3,537.1 963.8,538.2 C964.3,539.4 964.8,540.6 965.3,541.7 C965.8,542.9 966.3,544.1 966.7,545.3 C967.2,546.4 967.7,547.6 968.2,548.8 C968.7,549.9 969.2,551.1 969.7,552.3 C970.2,553.5 970.7,554.6 971.2,555.8 C971.7,557.0 972.2,558.2 972.7,559.3 C973.2,560.5 973.7,561.7 974.1,562.9 C974.6,564.0 975.1,565.2 975.6,566.4 C976.1,567.6 976.6,568.7 977.1,569.9 C977.6,571.1 978.1,572.3 978.5,573.5 C979.0,574.6 979.5,575.8 980.0,577.0 C980.5,578.2 981.0,579.4 981.5,580.5 C981.9,581.7 982.4,582.9 982.9,584.1 C983.4,585.3 983.9,586.5 984.4,587.6 C984.8,588.8 985.3,590.0 985.8,591.2 C986.3,592.4 986.8,593.6 987.3,594.7 C987.7,595.9 988.2,597.1 988.7,598.3 C989.2,599.5 989.7,600.7 990.2,601.8 C990.6,603.0 991.1,604.2 991.6,605.4 C992.1,606.6 992.6,607.8 993.0,609.0 C993.5,610.1 994.0,611.3 994.5,612.5 C995.0,613.7 995.4,614.9 995.9,616.1 C996.4,617.3 996.9,618.4 997.4,619.6 C997.8,620.8 998.3,622.0 998.8,623.2 C999.3,624.4 999.8,625.6 1000.2,626.8 C1000.7,628.0 1001.2,629.1 1001.7,630.3 C1002.1,631.5 1002.6,632.7 1003.1,633.9 C1003.6,635.1 1004.0,636.3 1004.5,637.5 C1005.0,638.7 1005.5,639.9 1005.9,641.1 C1006.4,642.3 1006.9,643.5 1007.4,644.6 C1007.8,645.8 1008.3,647.0 1008.8,648.2 C1009.2,649.4 1009.7,650.6 1010.2,651.8 C1010.7,653.0 1011.1,654.2 1011.6,655.4 C1012.1,656.6 1012.5,657.8 1013.0,659.0 C1013.5,660.2 1013.9,661.4 1014.4,662.6 C1014.9,663.8 1015.3,665.0 1015.8,666.2 C1016.3,667.4 1016.7,668.6 1017.2,669.8 C1017.6,671.0 1018.1,672.2 1018.6,673.4 C1019.0,674.6 1019.5,675.8 1020.0,677.0 C1020.4,678.2 1020.9,679.5 1021.3,680.7 C1021.8,681.9 1022.3,683.1 1022.7,684.3 C1023.2,685.5 1023.6,686.7 1024.1,687.9 C1024.5,689.1 1025.0,690.3 1025.5,691.5 C1025.9,692.8 1026.4,694.0 1026.8,695.2 C1027.3,696.4 1027.7,697.6 1028.2,698.8 C1028.6,700.0 1029.1,701.2 1029.6,702.4 C1030.0,703.7 1030.5,704.9 1030.9,706.1 C1031.4,707.3 1031.8,708.5 1032.3,709.7 C1032.7,710.9 1033.2,712.1 1033.6,713.4 C1034.1,714.6 1034.6,715.8 1035.0,717.0 C1035.5,718.2 1035.9,719.4 1036.4,720.6 C1036.8,721.8 1037.3,723.0 1037.7,724.3 C1038.2,725.5 1038.7,726.7 1039.1,727.9 C1039.6,729.1 1040.0,730.3 1040.5,731.5 C1041.0,732.7 1041.4,733.9 1041.9,735.1 C1042.3,736.3 1042.8,737.5 1043.3,738.7 C1043.7,740.0 1044.2,741.2 1044.6,742.4 C1045.1,743.6 1045.6,744.8 1046.0,746.0 C1046.5,747.2 1047.0,748.4 1047.4,749.6 C1047.9,750.8 1048.4,752.0 1048.8,753.2 C1049.3,754.4 1049.8,755.6 1050.2,756.8 C1050.7,758.0 1051.2,759.1 1051.7,760.3 C1052.1,761.5 1052.6,762.7 1053.1,763.9 C1053.6,765.1 1054.0,766.3 1054.5,767.5 C1055.0,768.7 1055.5,769.9 1055.9,771.1 C1056.4,772.3 1056.9,773.4 1057.4,774.6 C1057.8,775.8 1058.3,777.0 1058.8,778.2 C1059.3,779.4 1059.8,780.6 1060.2,781.8 C1060.7,782.9 1061.2,784.1 1061.7,785.3 C1062.2,786.5 1062.7,787.7 1063.1,788.9 C1063.6,790.0 1064.1,791.2 1064.6,792.4 C1065.1,793.6 1065.6,794.8 1066.0,796.0 C1066.5,797.1 1067.0,798.3 1067.5,799.5 C1068.0,800.7 1068.5,801.9 1068.9,803.1 C1069.4,804.2 1069.9,805.4 1070.4,806.6 C1070.9,807.8 1071.4,809.0 1071.9,810.1 C1072.3,811.3 1072.8,812.5 1073.3,813.7 C1073.8,814.9 1074.3,816.1 1074.8,817.2 C1075.3,818.4 1075.7,819.6 1076.2,820.8 C1076.7,822.0 1077.2,823.1 1077.7,824.3 C1078.2,825.5 1078.6,826.7 1079.1,827.9 C1079.6,829.1 1080.1,830.2 1080.6,831.4 C1081.1,832.6 1081.5,833.8 1082.0,835.0 C1082.5,836.2 1083.0,837.3 1083.5,838.5 C1084.0,839.7 1084.4,840.9 1084.9,842.1 C1085.4,843.2 1085.9,844.4 1086.4,845.6 C1086.9,846.8 1087.4,848.0 1087.8,849.2 C1088.3,850.3 1088.8,851.5 1089.3,852.7 C1089.8,853.9 1090.3,855.1 1090.8,856.2 C1091.3,857.4 1091.7,858.6 1092.2,859.8 C1092.7,860.9 1093.2,862.1 1093.7,863.3 C1094.2,864.5 1094.7,865.6 1095.2,866.8 C1095.7,868.0 1096.2,869.2 1096.7,870.3 C1097.2,871.5 1097.7,872.7 1098.2,873.8 C1098.7,875.0 1099.2,876.2 1099.7,877.3 C1100.2,878.5 1100.7,879.7 1101.2,880.8 C1101.7,882.0 1102.2,883.1 1102.7,884.3 C1103.2,885.5 1103.7,886.6 1104.2,887.8 C1104.7,888.9 1105.2,890.1 1105.8,891.2 C1106.3,892.4 1106.8,893.5 1107.3,894.7 C1107.8,895.8 1108.3,897.0 1108.9,898.1 C1109.4,899.3 1109.9,900.4 1110.4,901.6 C1111.0,902.7 1111.5,903.8 1112.0,905.0 C1112.6,906.1 1113.1,907.2 1113.6,908.4 C1114.2,909.5 1114.7,910.6 1115.3,911.7 C1115.8,912.9 1116.3,914.0 1116.9,915.1 C1117.4,916.2 1118.0,917.3 1118.6,918.4 C1119.1,919.6 1119.7,920.7 1120.2,921.8 C1120.8,922.9 1121.4,924.0 1121.9,925.1 C1122.5,926.1 1123.1,927.2 1123.7,928.3 C1124.3,929.4 1124.9,930.5 1125.5,931.5 C1126.0,932.6 1126.6,933.7 1127.3,934.7 C1127.9,935.8 1128.5,936.9 1129.1,937.9 C1129.7,939.0 1130.3,940.0 1131.0,941.0 C1131.6,942.1 1132.2,943.1 1132.9,944.1 C1133.5,945.2 1134.2,946.2 1134.8,947.2 C1135.5,948.2 1136.1,949.2 1136.8,950.2 C1137.5,951.2 1138.2,952.2 1138.8,953.2 C1139.5,954.1 1140.2,955.1 1140.9,956.1 C1141.6,957.1 1142.3,958.0 1143.0,959.0 C1143.7,959.9 1144.5,960.9 1145.2,961.8 C1145.9,962.7 1146.7,963.7 1147.4,964.6 C1148.1,965.5 1148.9,966.4 1149.7,967.3 C1150.4,968.3 1151.2,969.2 1151.9,970.1 C1152.7,970.9 1153.5,971.8 1154.3,972.7 C1155.1,973.6 1155.8,974.5 1156.6,975.4 C1157.4,976.2 1158.2,977.1 1159.0,978.0 C1159.8,978.8 1160.6,979.7 1161.5,980.5 C1162.3,981.4 1163.1,982.2 1163.9,983.1 C1164.7,983.9 1165.6,984.8 1166.4,985.6 C1167.2,986.4 1168.1,987.2 1168.9,988.1 C1169.8,988.9 1170.7,989.7 1171.5,990.5 C1172.4,991.2 1173.3,992.0 1174.2,992.8 C1175.1,993.6 1176.0,994.3 1177.0,995.0 C1177.9,995.8 1178.8,996.5 1179.8,997.2 C1180.7,997.9 1181.7,998.6 1182.7,999.3 C1183.7,1000.0 1184.7,1000.7 1185.7,1001.3 C1186.7,1002.0 1187.8,1002.6 1188.8,1003.2 C1189.9,1003.8 1191.0,1004.4 1192.1,1004.9 C1193.2,1005.4 1194.4,1006.0 1195.5,1006.5 C1196.7,1006.9 1197.9,1007.4 1199.2,1007.8 C1200.4,1008.3 1201.7,1008.7 1202.9,1009.1 C1204.2,1009.4 1205.6,1009.8 1206.9,1010.1 C1208.3,1010.4 1209.6,1010.7 1211.0,1011.0 C1212.4,1011.2 1213.9,1011.5 1215.3,1011.7 C1216.7,1011.9 1218.2,1012.1 1219.7,1012.3 C1221.2,1012.5 1222.7,1012.6 1224.2,1012.8 C1225.7,1012.9 1227.3,1013.1 1228.8,1013.2 C1230.4,1013.3 1231.9,1013.4 1233.5,1013.5 C1235.1,1013.6 1236.7,1013.6 1238.3,1013.7 C1239.9,1013.8 1241.5,1013.8 1243.1,1013.9 C1244.7,1013.9 1246.4,1014.0 1248.0,1014.0 C1249.6,1014.0 1251.3,1014.1 1252.9,1014.1 C1254.5,1014.1 1256.2,1014.1 1257.8,1014.2 C1259.5,1014.2 1261.1,1014.2 1262.8,1014.2 C1264.4,1014.3 1266.1,1014.3 1267.7,1014.3 C1269.3,1014.3 1271.0,1014.3 1272.6,1014.4 C1274.3,1014.4 1275.9,1014.4 1277.6,1014.4 C1279.2,1014.4 1280.9,1014.5 1282.5,1014.5 C1284.2,1014.5 1285.8,1014.5 1287.5,1014.5 C1289.1,1014.6 1290.7,1014.6 1292.4,1014.6 C1294.0,1014.6 1295.7,1014.6 1297.3,1014.7 C1299.0,1014.7 1300.6,1014.7 1302.3,1014.7 C1303.9,1014.7 1305.6,1014.7 1307.2,1014.8 C1308.9,1014.8 1310.5,1014.8 1312.2,1014.8 C1313.9,1014.8 1315.5,1014.8 1317.2,1014.8 C1318.8,1014.9 1320.5,1014.9 1322.1,1014.9 C1323.8,1014.9 1325.4,1014.9 1327.1,1014.9 C1328.8,1014.9 1330.4,1014.9 1332.1,1014.9 C1333.7,1014.9 1335.4,1014.9 1337.1,1014.9 C1338.7,1015.0 1340.4,1015.0 1342.0,1015.0 C1343.7,1015.0 1345.4,1015.0 1347.0,1015.0 C1348.7,1015.0 1350.4,1015.0 1352.0,1015.0 C1353.7,1015.0 1355.3,1015.0 1357.0,1015.0 C1358.7,1015.0 1360.3,1015.0 1362.0,1015.0 C1363.7,1015.0 1365.3,1015.0 1367.0,1015.0 C1368.7,1015.0 1370.3,1015.0 1372.0,1015.0 C1373.7,1015.0 1375.7,1015.0 1377.0,1015.0 C1378.3,1015.0 1379.5,1015.0 1380.0,1015.0" stroke="#0000ff"/>
<path d="M190.0,123.8 C190.8,123.9 193.0,124.1 194.5,124.3 C196.0,124.4 197.5,124.6 199.0,124.8 C200.5,124.9 202.0,125.1 203.5,125.3 C205.0,125.4 206.5,125.6 208.0,125.8 C209.5,125.9 211.0,126.1 212.5,126.3 C214.0,126.5 215.5,126.6 217.0,126.8 C218.5,127.0 220.0,127.1 221.5,127.3 C223.0,127.5 224.5,127.6 226.0,127.8 C227.5,128.0 229.0,128.2 230.5,128.3 C232.0,128.5 233.5,128.7 234.9,128.9 C236.4,129.0 237.9,129.2 239.4,129.4 C240.9,129.6 242.4,129.7 243.9,129.9 C245.4,130.1 246.9,130.3 248.4,130.4 C249.8,130.6 251.3,130.8 252.8,131.0 C254.3,131.2 255.8,131.4 257.3,131.5 C258.7,131.7 260.2,131.9 261.7,132.1 C263.2,132.3 264.7,132.5 266.2,132.6 C267.6,132.8 269.1,133.0 270.6,133.2 C272.1,133.4 273.5,133.6 275.0,133.8 C276.5,134.0 278.0,134.2 279.4,134.4 C280.9,134.6 282.4,134.8 283.8,135.0 C285.3,135.2 286.8,135.4 288.2,135.6 C289.7,135.8 291.2,136.0 292.6,136.2 C294.1,136.4 295.5,136.6 297.0,136.8 C298.5,137.0 299.9,137.2 301.4,137.4 C302.8,137.6 304.3,137.9 305.7,138.1 C307.2,138.3 308.6,138.5 310.1,138.7 C311.5,138.9 313.0,139.2 314.4,139.4 C315.9,139.6 317.3,139.8 318.7,140.1 C320.2,140.3 321.6,140.5 323.1,140.7 C324.5,141.0 325.9,141.2 327.4,141.4 C328.8,141.7 330.2,141.9 331.7,142.1 C333.1,142.4 334.5,142.6 336.0,142.8 C337.4,143.1 338.8,143.3 340.2,143.6 C341.7,143.8 343.1,144.0 344.5,144.3 C345.9,144.5 347.3,144.8 348.8,145.0 C350.2,145.3 351.6,145.5 353.0,145.8 C354.4,146.0 355.8,146.3 357.3,146.5 C358.7,146.8 360.1,147.1 361.5,147.3 C362.9,147.6 364.3,147.8 365.7,148.1 C367.1,148.4 368.5,148.6 369.9,148.9 C371.3,149.2 372.7,149.4 374.1,149.7 C375.5,150.0 376.9,150.2 378.3,150.5 C379.7,150.8 381.1,151.1 382.5,151.3 C383.9,151.6 385.3,151.9 386.6,152.2 C388.0,152.4 389.4,152.7 390.8,153.0 C392.2,153.3 393.6,153.6 395.0,153.8 C396.4,154.1 397.7,154.4 399.1,154.7 C400.5,155.0 401.9,155.2 403.3,155.5 C404.7,155.8 406.0,156.1 407.4,156.4 C408.8,156.7 410.2,157.0 411.6,157.2 C412.9,157.5 414.3,157.8 415.7,158.1 C417.1,158.4 418.5,158.7 419.8,159.0 C421.2,159.2 422.6,159.5 424.0,159.8 C425.4,160.1 426.7,160.4 428.1,160.7 C429.5,161.0 430.9,161.3 432.3,161.5 C433.6,161.8 435.0,162.1 436.4,162.4 C437.8,162.7 439.1,163.0 440.5,163.3 C441.9,163.6 443.3,163.9 444.6,164.2 C446.0,164.5 447.4,164.8 448.7,165.1 C450.1,165.4 451.5,165.7 452.8,166.0 C454.2,166.3 455.6,166.6 456.9,166.9 C458.3,167.2 459.7,167.5 461.0,167.8 C462.4,168.1 463.7,168.4 465.1,168.7 C466.4,169.0 467.8,169.3 469.1,169.7 C470.5,170.0 471.8,170.3 473.2,170.6 C474.5,170.9 475.9,171.3 477.2,171.6 C478.5,171.9 479.9,172.3 481.2,172.6 C482.5,172.9 483.9,173.3 485.2,173.6 C486.5,173.9 487.9,174.3 489.2,174.6 C490.5,175.0 491.8,175.3 493.1,175.7 C494.4,176.0 495.8,176.4 497.1,176.7 C498.4,177.1 499.7,177.5 501.0,177.8 C502.3,178.2 503.6,178.5 504.9,178.9 C506.2,179.3 507.5,179.7 508.8,180.0 C510.1,180.4 511.4,180.8 512.6,181.2 C513.9,181.5 515.2,181.9 516.5,182.3 C517.8,182.7 519.1,183.1 520.3,183.5 C521.6,183.9 522.9,184.2 524.2,184.6 C525.4,185.0 526.7,185.4 528.0,185.8 C529.2,186.2 530.5,186.6 531.8,187.0 C533.0,187.4 534.3,187.8 535.6,188.2 C536.8,188.6 538.1,189.0 539.4,189.4 C540.6,189.9 541.9,190.3 543.1,190.7 C544.4,191.1 545.6,191.5 546.9,191.9 C548.1,192.3 549.4,192.7 550.6,193.2 C551.9,193.6 553.1,194.0 554.4,194.4 C555.6,194.8 556.9,195.3 558.1,195.7 C559.4,196.1 560.6,196.5 561.8,197.0 C563.1,197.4 564.3,197.8 565.5,198.3 C566.8,198.7 568.0,199.1 569.2,199.6 C570.5,200.0 571.7,200.5 572.9,200.9 C574.1,201.3 575.3,201.8 576.6,202.2 C577.8,202.7 579.0,203.1 580.2,203.6 C581.4,204.0 582.6,204.5 583.8,205.0 C585.1,205.4 586.3,205.9 587.5,206.3 C588.7,206.8 589.9,207.3 591.1,207.7 C592.3,208.2 593.4,208.7 594.6,209.2 C595.8,209.6 597.0,210.1 598.2,210.6 C599.4,211.1 600.6,211.6 601.7,212.1 C602.9,212.5 604.1,213.0 605.3,213.5 C606.4,214.0 607.6,214.5 608.8,215.0 C609.9,215.5 611.1,216.0 612.2,216.6 C613.4,217.1 614.6,217.6 615.7,218.1 C616.9,218.6 618.0,219.1 619.1,219.7 C620.3,220.2 621.4,220.7 622.6,221.2 C623.7,221.8 624.8,222.3 625.9,222.9 C627.1,223.4 628.2,223.9 629.3,224.5 C630.4,225.0 631.5,225.6 632.7,226.1 C633.8,226.7 634.9,227.3 636.0,227.8 C637.1,228.4 638.2,229.0 639.2,229.6 C640.3,230.1 641.4,230.7 642.5,231.3 C643.6,231.9 644.7,232.5 645.7,233.1 C646.8,233.7 647.9,234.3 648.9,234.9 C650.0,235.5 651.1,236.1 652.1,236.7 C653.2,237.3 654.2,237.9 655.3,238.5 C656.3,239.2 657.4,239.8 658.4,240.4 C659.4,241.0 660.5,241.7 661.5,242.3 C662.5,242.9 663.6,243.6 664.6,244.2 C665.6,244.9 666.6,245.5 667.6,246.2 C668.6,246.8 669.7,247.5 670.7,248.1 C671.7,248.8 672.7,249.4 673.7,250.1 C674.7,250.8 675.7,251.4 676.7,252.1 C677.7,252.8 678.7,253.5 679.7,254.1 C680.6,254.8 681.6,255.5 682.6,256.2 C683.6,256.9 684.6,257.6 685.5,258.3 C686.5,258.9 687.5,259.6 688.5,260.3 C689.4,261.0 690.4,261.7 691.3,262.5 C692.3,263.2 693.3,263.9 694.2,264.6 C695.2,265.3 696.1,266.0 697.0,266.8 C698.0,267.5 698.9,268.2 699.8,269.0 C700.8,269.7 701.7,270.4 702.6,271.2 C703.5,271.9 704.5,272.7 705.4,273.4 C706.3,274.2 707.2,274.9 708.1,275.7 C709.0,276.5 709.9,277.2 710.8,278.0 C711.7,278.8 712.6,279.5 713.5,280.3 C714.4,281.1 715.3,281.9 716.1,282.7 C717.0,283.5 717.9,284.2 718.8,285.0 C719.6,285.8 720.5,286.6 721.4,287.4 C722.2,288.2 723.1,289.1 723.9,289.9 C724.8,290.7 725.6,291.5 726.5,292.3 C727.3,293.1 728.2,293.9 729.0,294.8 C729.9,295.6 730.7,296.4 731.5,297.3 C732.4,298.1 733.2,298.9 734.0,299.8 C734.9,300.6 735.7,301.4 736.5,302.3 C737.3,303.1 738.2,304.0 739.0,304.8 C739.8,305.7 740.6,306.5 741.4,307.4 C742.2,308.2 743.0,309.1 743.8,310.0 C744.6,310.8 745.4,311.7 746.2,312.6 C747.0,313.4 747.8,314.3 748.6,315.2 C749.4,316.0 750.2,316.9 751.0,317.8 C751.8,318.7 752.6,319.6 753.3,320.5 C754.1,321.3 754.9,322.2 755.7,323.1 C756.4,324.0 757.2,324.9 758.0,325.8 C758.7,326.7 759.5,327.6 760.3,328.5 C761.0,329.4 761.8,330.3 762.5,331.3 C763.3,332.2 764.1,333.1 764.8,334.0 C765.6,334.9 766.3,335.8 767.0,336.8 C767.8,337.7 768.5,338.6 769.3,339.5 C770.0,340.5 770.7,341.4 771.5,342.3 C772.2,343.3 772.9,344.2 773.7,345.1 C774.4,346.1 775.1,347.0 775.8,348.0 C776.5,348.9 777.3,349.9 778.0,350.8 C778.7,351.8 779.4,352.7 780.1,353.7 C780.8,354.6 781.5,355.6 782.2,356.6 C782.9,357.5 783.6,358.5 784.3,359.5 C785.0,360.4 785.7,361.4 786.4,362.4 C787.1,363.3 787.8,364.3 788.5,365.3 C789.2,366.3 789.9,367.3 790.6,368.2 C791.2,369.2 791.9,370.2 792.6,371.2 C793.3,372.2 793.9,373.2 794.6,374.2 C795.3,375.2 796.0,376.2 796.6,377.2 C797.3,378.2 797.9,379.2 798.6,380.2 C799.3,381.2 799.9,382.2 800.6,383.2 C801.2,384.2 801.9,385.2 802.5,386.3 C803.2,387.3 803.8,388.3 804.5,389.3 C805.1,390.3 805.8,391.4 806.4,392.4 C807.1,393.4 807.7,394.4 808.3,395.5 C809.0,396.5 809.6,397.5 810.2,398.6 C810.9,399.6 811.5,400.6 812.1,401.7 C812.7,402.7 813.4,403.8 814.0,404.8 C814.6,405.9 815.2,406.9 815.8,408.0 C816.5,409.0 817.1,410.1 817.7,411.1 C818.3,412.2 818.9,413.2 819.5,414.3 C820.1,415.3 820.7,416.4 821.3,417.5 C821.9,418.5 822.5,419.6 823.1,420.7 C823.7,421.7 824.3,422.8 824.9,423.9 C825.5,424.9 826.1,426.0 826.7,427.1 C827.3,428.2 827.9,429.2 828.5,430.3 C829.1,431.4 829.6,432.5 830.2,433.6 C830.8,434.7 831.4,435.7 832.0,436.8 C832.5,437.9 833.1,439.0 833.7,440.1 C834.3,441.2 834.9,442.3 835.4,443.4 C836.0,444.5 836.6,445.6 837.1,446.7 C837.7,447.8 838.3,448.9 838.8,450.0 C839.4,451.1 840.0,452.2 840.5,453.3 C841.1,454.4 841.6,455.5 842.2,456.6 C842.7,457.7 843.3,458.8 843.9,459.9 C844.4,461.1 845.0,462.2 845.5,463.3 C846.1,464.4 846.6,465.5 847.2,466.6 C847.7,467.8 848.2,468.9 848.8,470.0 C849.3,471.1 849.9,472.3 850.4,473.4 C851.0,474.5 851.5,475.6 852.0,476.8 C852.6,477.9 853.1,479.0 853.6,480.2 C854.2,481.3 854.7,482.4 855.2,483.6 C855.8,484.7 856.3,485.8 856.8,487.0 C857.3,488.1 857.9,489.3 858.4,490.4 C858.9,491.6 859.4,492.7 860.0,493.8 C860.5,495.0 861.0,496.1 861.5,497.3 C862.0,498.4 862.5,499.6 863.1,500.7 C863.6,501.9 864.1,503.1 864.6,504.2 C865.1,505.4 865.6,506.5 866.1,507.7 C866.6,508.8 867.1,510.0 867.6,511.2 C868.1,512.3 868.6,513.5 869.2,514.6 C869.7,515.8 870.2,517.0 870.7,518.1 C871.2,519.3 871.6,520.5 872.1,521.7 C872.6,522.8 873.1,524.0 873.6,525.2 C874.1,526.3 874.6,527.5 875.1,528.7 C875.6,529.9 876.1,531.0 876.6,532.2 C877.1,533.4 877.5,534.6 878.0,535.8 C878.5,536.9 879.0,538.1 879.5,539.3 C880.0,540.5 880.4,541.7 880.9,542.9 C881.4,544.1 881.9,545.2 882.4,546.4 C882.8,547.6 883.3,548.8 883.8,550.0 C884.3,551.2 884.7,552.4 885.2,553.6 C885.7,554.8 886.2,556.0 886.6,557.2 C887.1,558.4 887.6,559.6 888.0,560.8 C888.5,562.0 889.0,563.1 889.5,564.3 C889.9,565.5 890.4,566.7 890.8,568.0 C891.3,569.2 891.8,570.4 892.2,571.6 C892.7,572.8 893.2,574.0 893.6,575.2 C894.1,576.4 894.6,577.6 895.0,578.8 C895.5,580.0 895.9,581.2 896.4,582.4 C896.8,583.6 897.3,584.8 897.8,586.0 C898.2,587.3 898.7,588.5 899.1,589.7 C899.6,590.9 900.0,592.1 900.5,593.3 C900.9,594.5 901.4,595.7 901.8,597.0 C902.3,598.2 902.8,599.4 903.2,600.6 C903.7,601.8 904.1,603.0 904.6,604.2 C905.0,605.5 905.5,606.7 905.9,607.9 C906.3,609.1 906.8,610.3 907.2,611.6 C907.7,612.8 908.1,614.0 908.6,615.2 C909.0,616.4 909.5,617.7 909.9,618.9 C910.4,620.1 910.8,621.3 911.3,622.5 C911.7,623.8 912.1,625.0 912.6,626.2 C913.0,627.4 913.5,628.7 913.9,629.9 C914.3,631.1 914.8,632.3 915.2,633.6 C915.7,634.8 916.1,636.0 916.5,637.3 C917.0,638.5 917.4,639.7 917.9,640.9 C918.3,642.2 918.7,643.4 919.2,644.6 C919.6,645.9 920.0,647.1 920.5,648.3 C920.9,649.6 921.3,650.8 921.8,652.0 C922.2,653.3 922.6,654.5 923.1,655.7 C923.5,657.0 923.9,658.2 924.4,659.4 C924.8,660.7 925.2,661.9 925.7,663.1 C926.1,664.4 926.5,665.6 926.9,666.9 C927.4,668.1 927.8,669.3 928.2,670.6 C928.6,671.8 929.1,673.1 929.5,674.3 C929.9,675.5 930.3,676.8 930.8,678.0 C931.2,679.3 931.6,680.5 932.0,681.8 C932.5,683.0 932.9,684.2 933.3,685.5 C933.7,686.7 934.2,688.0 934.6,689.2 C935.0,690.5 935.4,691.7 935.8,693.0 C936.3,694.2 936.7,695.5 937.1,696.7 C937.5,698.0 937.9,699.2 938.3,700.5 C938.8,701.7 939.2,703.0 939.6,704.2 C940.0,705.5 940.4,706.7 940.8,708.0 C941.3,709.2 941.7,710.5 942.1,711.7 C942.5,713.0 942.9,714.2 943.3,715.5 C943.7,716.7 944.2,718.0 944.6,719.2 C945.0,720.5 945.4,721.7 945.8,723.0 C946.2,724.2 946.6,725.5 947.0,726.8 C947.5,728.0 947.9,729.3 948.3,730.5 C948.7,731.8 949.1,733.0 949.5,734.3 C949.9,735.5 950.3,736.8 950.7,738.1 C951.2,739.3 951.6,740.6 952.0,741.8 C952.4,743.1 952.8,744.3 953.2,745.6 C953.6,746.8 954.0,748.1 954.4,749.4 C954.9,750.6 955.3,751.9 955.7,753.1 C956.1,754.4 956.5,755.6 956.9,756.9 C957.3,758.2 957.7,759.4 958.1,760.7 C958.5,761.9 959.0,763.2 959.4,764.4 C959.8,765.7 960.2,767.0 960.6,768.2 C961.0,769.5 961.4,770.7 961.8,772.0 C962.2,773.2 962.6,774.5 963.1,775.7 C963.5,777.0 963.9,778.3 964.3,779.5 C964.7,780.8 965.1,782.0 965.5,783.3 C965.9,784.5 966.4,785.8 966.8,787.0 C967.2,788.3 967.6,789.5 968.0,790.8 C968.4,792.0 968.8,793.3 969.3,794.5 C969.7,795.8 970.1,797.0 970.5,798.3 C970.9,799.5 971.3,800.8 971.8,802.0 C972.2,803.3 972.6,804.5 973.0,805.8 C973.4,807.0 973.9,808.3 974.3,809.5 C974.7,810.8 975.1,812.0 975.5,813.3 C976.0,814.5 976.4,815.7 976.8,817.0 C977.2,818.2 977.7,819.5 978.1,820.7 C978.5,822.0 978.9,823.2 979.4,824.4 C979.8,825.7 980.2,826.9 980.7,828.1 C981.1,829.4 981.5,830.6 981.9,831.9 C982.4,833.1 982.8,834.3 983.3,835.5 C983.7,836.8 984.1,838.0 984.6,839.2 C985.0,840.5 985.4,841.7 985.9,842.9 C986.3,844.1 986.8,845.4 987.2,846.6 C987.7,847.8 988.1,849.0 988.6,850.2 C989.0,851.5 989.5,852.7 989.9,853.9 C990.4,855.1 990.8,856.3 991.3,857.5 C991.7,858.7 992.2,859.9 992.7,861.1 C993.1,862.3 993.6,863.5 994.1,864.7 C994.6,865.9 995.0,867.1 995.5,868.3 C996.0,869.5 996.5,870.7 996.9,871.9 C997.4,873.0 997.9,874.2 998.4,875.4 C998.9,876.6 999.4,877.7 999.9,878.9 C1000.4,880.1 1000.9,881.3 1001.4,882.4 C1001.9,883.6 1002.4,884.7 1002.9,885.9 C1003.4,887.0 1003.9,888.2 1004.5,889.3 C1005.0,890.5 1005.5,891.6 1006.0,892.8 C1006.6,893.9 1007.1,895.0 1007.6,896.2 C1008.2,897.3 1008.7,898.4 1009.3,899.5 C1009.8,900.7 1010.4,901.8 1010.9,902.9 C1011.5,904.0 1012.0,905.1 1012.6,906.2 C1013.2,907.3 1013.7,908.4 1014.3,909.5 C1014.9,910.6 1015.5,911.7 1016.1,912.7 C1016.7,913.8 1017.3,914.9 1017.9,915.9 C1018.5,917.0 1019.1,918.0 1019.7,919.1 C1020.4,920.1 1021.0,921.1 1021.6,922.2 C1022.3,923.2 1022.9,924.2 1023.6,925.2 C1024.2,926.3 1024.9,927.3 1025.5,928.3 C1026.2,929.3 1026.9,930.3 1027.6,931.2 C1028.2,932.2 1028.9,933.2 1029.6,934.2 C1030.3,935.2 1031.0,936.2 1031.7,937.1 C1032.4,938.1 1033.1,939.1 1033.8,940.0 C1034.5,941.0 1035.2,941.9 1035.9,942.9 C1036.6,943.8 1037.4,944.8 1038.1,945.7 C1038.8,946.6 1039.6,947.6 1040.3,948.5 C1041.1,949.4 1041.8,950.3 1042.6,951.2 C1043.3,952.1 1044.1,953.0 1044.9,953.9 C1045.7,954.8 1046.5,955.7 1047.3,956.5 C1048.1,957.4 1048.9,958.2 1049.8,959.0 C1050.6,959.9 1051.4,960.7 1052.3,961.5 C1053.2,962.3 1054.1,963.0 1055.0,963.8 C1055.9,964.6 1056.8,965.3 1057.8,966.0 C1058.8,966.7 1059.7,967.4 1060.7,968.1 C1061.8,968.7 1062.8,969.3 1063.9,969.9 C1064.9,970.6 1066.0,971.1 1067.1,971.7 C1068.2,972.2 1069.4,972.7 1070.6,973.2 C1071.8,973.7 1073.0,974.2 1074.2,974.6 C1075.5,975.0 1076.7,975.4 1078.0,975.8 C1079.4,976.1 1080.7,976.4 1082.0,976.8 C1083.4,977.1 1084.8,977.3 1086.2,977.6 C1087.6,977.9 1089.0,978.1 1090.5,978.3 C1091.9,978.5 1093.4,978.7 1094.9,978.9 C1096.4,979.1 1097.9,979.3 1099.4,979.4 C1100.9,979.6 1102.4,979.7 1104.0,979.8 C1105.5,980.0 1107.0,980.1 1108.6,980.2 C1110.1,980.3 1111.7,980.4 1113.3,980.5 C1114.8,980.6 1116.4,980.7 1118.0,980.8 C1119.5,980.9 1121.1,981.0 1122.7,981.1 C1124.3,981.2 1125.8,981.3 1127.4,981.4 C1129.0,981.5 1130.6,981.6 1132.2,981.6 C1133.7,981.7 1135.3,981.8 1136.9,981.9 C1138.5,982.0 1140.1,982.1 1141.7,982.1 C1143.3,982.2 1144.8,982.3 1146.4,982.4 C1148.0,982.4 1149.6,982.5 1151.2,982.6 C1152.8,982.7 1154.4,982.7 1156.0,982.8 C1157.6,982.9 1159.2,983.0 1160.8,983.0 C1162.3,983.1 1163.9,983.2 1165.5,983.3 C1167.1,983.3 1168.7,983.4 1170.3,983.5 C1171.9,983.6 1173.5,983.6 1175.1,983.7 C1176.7,983.8 1178.3,983.8 1179.9,983.9 C1181.5,984.0 1183.1,984.0 1184.7,984.1 C1186.3,984.2 1187.9,984.3 1189.5,984.3 C1191.1,984.4 1192.7,984.5 1194.3,984.5 C1195.9,984.6 1197.5,984.7 1199.1,984.7 C1200.6,984.8 1202.2,984.9 1203.8,985.0 C1205.4,985.0 1207.0,985.1 1208.6,985.2 C1210.2,985.2 1211.8,985.3 1213.4,985.4 C1215.0,985.4 1216.6,985.5 1218.2,985.6 C1219.8,985.7 1221.4,985.7 1223.0,985.8 C1224.6,985.9 1226.2,985.9 1227.8,986.0 C1229.4,986.1 1231.0,986.1 1232.6,986.2 C1234.2,986.2 1235.8,986.3 1237.4,986.4 C1239.0,986.4 1240.6,986.5 1242.3,986.5 C1243.9,986.6 1245.5,986.7 1247.1,986.7 C1248.7,986.8 1250.3,986.8 1251.9,986.9 C1253.6,986.9 1255.2,987.0 1256.8,987.0 C1258.4,987.1 1260.0,987.1 1261.7,987.1 C1263.3,987.2 1264.9,987.2 1266.5,987.3 C1268.2,987.3 1269.8,987.3 1271.4,987.4 C1273.1,987.4 1274.7,987.4 1276.4,987.4 C1278.0,987.5 1279.6,987.5 1281.3,987.5 C1282.9,987.5 1284.6,987.6 1286.2,987.6 C1287.9,987.6 1289.5,987.6 1291.2,987.6 C1292.8,987.7 1294.5,987.7 1296.1,987.7 C1297.8,987.7 1299.4,987.7 1301.1,987.7 C1302.7,987.7 1304.4,987.8 1306.0,987.8 C1307.7,987.8 1309.3,987.8 1311.0,987.8 C1312.7,987.8 1314.3,987.8 1316.0,987.8 C1317.6,987.8 1319.3,987.8 1321.0,987.8 C1322.6,987.8 1324.3,987.8 1326.0,987.8 C1327.6,987.8 1329.3,987.8 1331.0,987.8 C1332.6,987.8 1334.3,987.9 1335.9,987.9 C1337.6,987.9 1339.3,987.9 1340.9,987.9 C1342.6,987.9 1344.3,987.9 1345.9,987.9 C1347.6,987.9 1349.3,987.9 1350.9,987.9 C1352.6,987.8 1354.3,987.8 1356.0,987.8 C1357.6,987.8 1359.3,987.8 1361.0,987.8 C1362.6,987.8 1364.3,987.8 1366.0,987.8 C1367.6,987.8 1369.3,987.8 1371.0,987.8 C1372.6,987.8 1374.5,987.8 1376.0,987.8 C1377.5,987.8 1379.3,987.8 1380.0,987.8" stroke="#ff00ff"/>
<path d="M190.0,92.4 C190.8,92.4 193.3,92.5 194.9,92.5 C196.6,92.5 198.2,92.5 199.8,92.6 C201.5,92.6 203.1,92.6 204.7,92.7 C206.4,92.7 208.0,92.7 209.6,92.8 C211.3,92.8 212.9,92.8 214.5,92.9 C216.2,92.9 217.8,92.9 219.5,92.9 C221.1,93.0 222.7,93.0 224.4,93.0 C226.0,93.1 227.6,93.1 229.3,93.1 C230.9,93.2 232.5,93.2 234.2,93.2 C235.8,93.3 237.4,93.3 239.1,93.3 C240.7,93.4 242.3,93.4 243.9,93.5 C245.6,93.5 247.2,93.5 248.8,93.6 C250.5,93.6 252.1,93.6 253.7,93.7 C255.4,93.7 257.0,93.8 258.6,93.8 C260.2,93.8 261.9,93.9 263.5,93.9 C265.1,93.9 266.7,94.0 268.4,94.0 C270.0,94.1 271.6,94.1 273.2,94.2 C274.9,94.2 276.5,94.2 278.1,94.3 C279.7,94.3 281.4,94.4 283.0,94.4 C284.6,94.5 286.2,94.5 287.9,94.5 C289.5,94.6 291.1,94.6 292.7,94.7 C294.4,94.7 296.0,94.8 297.6,94.8 C299.2,94.8 300.9,94.9 302.5,94.9 C304.1,95.0 305.7,95.0 307.4,95.0 C309.0,95.1 310.6,95.1 312.2,95.2 C313.8,95.2 315.5,95.3 317.1,95.3 C318.7,95.3 320.3,95.4 322.0,95.4 C323.6,95.5 325.2,95.5 326.8,95.6 C328.5,95.6 330.1,95.7 331.7,95.7 C333.3,95.7 334.9,95.8 336.6,95.8 C338.2,95.9 339.8,95.9 341.4,96.0 C343.1,96.0 344.7,96.1 346.3,96.1 C347.9,96.1 349.5,96.2 351.2,96.2 C352.8,96.3 354.4,96.3 356.0,96.4 C357.7,96.4 359.3,96.5 360.9,96.5 C362.5,96.6 364.1,96.6 365.7,96.7 C367.4,96.7 369.0,96.8 370.6,96.8 C372.2,96.8 373.8,96.9 375.4,97.0 C377.1,97.0 378.7,97.1 380.3,97.1 C381.9,97.2 383.5,97.2 385.1,97.3 C386.7,97.3 388.3,97.4 390.0,97.4 C391.6,97.5 393.2,97.6 394.8,97.6 C396.4,97.7 398.0,97.7 399.6,97.8 C401.2,97.9 402.8,97.9 404.4,98.0 C406.0,98.1 407.6,98.1 409.2,98.2 C410.8,98.3 412.4,98.3 414.0,98.4 C415.6,98.5 417.2,98.6 418.8,98.6 C420.4,98.7 421.9,98.8 423.5,98.9 C425.1,98.9 426.7,99.0 428.3,99.1 C429.9,99.2 431.5,99.3 433.0,99.4 C434.6,99.4 436.2,99.5 437.8,99.6 C439.4,99.7 440.9,99.8 442.5,99.9 C444.1,100.0 445.7,100.1 447.2,100.2 C448.8,100.3 450.4,100.4 451.9,100.5 C453.5,100.6 455.1,100.7 456.6,100.8 C458.2,100.9 459.8,101.0 461.3,101.1 C462.9,101.2 464.4,101.3 466.0,101.4 C467.6,101.5 469.1,101.6 470.7,101.7 C472.2,101.9 473.8,102.0 475.3,102.1 C476.8,102.2 478.4,102.4 479.9,102.5 C481.5,102.6 483.0,102.7 484.5,102.9 C486.1,103.0 487.6,103.1 489.1,103.3 C490.7,103.4 492.2,103.6 493.7,103.7 C495.2,103.8 496.7,104.0 498.3,104.1 C499.8,104.3 501.3,104.4 502.8,104.6 C504.3,104.8 505.8,104.9 507.3,105.1 C508.8,105.2 510.3,105.4 511.8,105.6 C513.3,105.7 514.8,105.9 516.3,106.1 C517.8,106.3 519.3,106.4 520.8,106.6 C522.3,106.8 523.8,107.0 525.2,107.2 C526.7,107.3 528.2,107.5 529.7,107.7 C531.2,107.9 532.6,108.1 534.1,108.3 C535.6,108.5 537.1,108.7 538.5,108.9 C540.0,109.1 541.5,109.3 542.9,109.5 C544.4,109.7 545.8,109.9 547.3,110.1 C548.8,110.3 550.2,110.5 551.7,110.7 C553.1,110.9 554.6,111.2 556.0,111.4 C557.5,111.6 558.9,111.8 560.4,112.0 C561.8,112.3 563.2,112.5 564.7,112.7 C566.1,113.0 567.5,113.2 569.0,113.4 C570.4,113.7 571.8,113.9 573.2,114.2 C574.7,114.4 576.1,114.7 577.5,114.9 C578.9,115.2 580.3,115.4 581.7,115.7 C583.1,116.0 584.5,116.2 585.9,116.5 C587.3,116.8 588.7,117.0 590.1,117.3 C591.4,117.6 592.8,117.9 594.2,118.2 C595.6,118.5 596.9,118.8 598.3,119.1 C599.7,119.4 601.0,119.7 602.4,120.0 C603.7,120.3 605.1,120.7 606.4,121.0 C607.7,121.3 609.1,121.7 610.4,122.0 C611.7,122.3 613.1,122.7 614.4,123.0 C615.7,123.4 617.0,123.7 618.3,124.1 C619.6,124.4 620.9,124.8 622.2,125.2 C623.5,125.5 624.8,125.9 626.1,126.3 C627.4,126.7 628.7,127.1 629.9,127.5 C631.2,127.9 632.5,128.3 633.7,128.7 C635.0,129.1 636.3,129.5 637.5,129.9 C638.8,130.3 640.0,130.7 641.3,131.1 C642.5,131.6 643.7,132.0 645.0,132.4 C646.2,132.9 647.4,133.3 648.7,133.7 C649.9,134.2 651.1,134.6 652.3,135.1 C653.5,135.6 654.7,136.0 655.9,136.5 C657.1,136.9 658.3,137.4 659.5,137.9 C660.7,138.4 661.9,138.9 663.1,139.3 C664.2,139.8 665.4,140.3 666.6,140.8 C667.7,141.3 668.9,141.8 670.1,142.3 C671.2,142.9 672.4,143.4 673.5,143.9 C674.6,144.4 675.8,145.0 676.9,145.5 C678.0,146.0 679.2,146.6 680.3,147.1 C681.4,147.7 682.5,148.2 683.6,148.8 C684.7,149.4 685.8,149.9 686.9,150.5 C688.0,151.1 689.1,151.7 690.1,152.3 C691.2,152.8 692.3,153.4 693.3,154.1 C694.4,154.7 695.5,155.3 696.5,155.9 C697.6,156.5 698.6,157.1 699.6,157.8 C700.7,158.4 701.7,159.0 702.7,159.7 C703.8,160.3 704.8,161.0 705.8,161.6 C706.8,162.3 707.8,162.9 708.8,163.6 C709.8,164.3 710.8,165.0 711.8,165.6 C712.7,166.3 713.7,167.0 714.7,167.7 C715.7,168.4 716.6,169.1 717.6,169.8 C718.6,170.5 719.5,171.2 720.5,171.9 C721.4,172.6 722.4,173.3 723.3,174.1 C724.3,174.8 725.2,175.5 726.2,176.2 C727.1,177.0 728.0,177.7 728.9,178.5 C729.9,179.2 730.8,179.9 731.7,180.7 C732.6,181.4 733.5,182.2 734.5,182.9 C735.4,183.7 736.3,184.5 737.2,185.2 C738.1,186.0 739.0,186.8 739.9,187.5 C740.8,188.3 741.7,189.1 742.5,189.9 C743.4,190.6 744.3,191.4 745.2,192.2 C746.1,193.0 747.0,193.8 747.8,194.6 C748.7,195.4 749.6,196.2 750.4,197.0 C751.3,197.8 752.2,198.6 753.0,199.4 C753.9,200.2 754.7,201.0 755.6,201.8 C756.4,202.6 757.3,203.5 758.1,204.3 C758.9,205.1 759.8,206.0 760.6,206.8 C761.4,207.6 762.3,208.5 763.1,209.3 C763.9,210.2 764.7,211.0 765.5,211.9 C766.3,212.7 767.2,213.6 768.0,214.4 C768.8,215.3 769.6,216.2 770.3,217.1 C771.1,217.9 771.9,218.8 772.7,219.7 C773.5,220.6 774.3,221.5 775.0,222.4 C775.8,223.2 776.6,224.1 777.4,225.0 C778.1,225.9 778.9,226.9 779.6,227.8 C780.4,228.7 781.1,229.6 781.9,230.5 C782.6,231.4 783.4,232.4 784.1,233.3 C784.8,234.2 785.6,235.2 786.3,236.1 C787.0,237.0 787.8,238.0 788.5,238.9 C789.2,239.9 789.9,240.8 790.6,241.8 C791.4,242.7 792.1,243.7 792.8,244.6 C793.5,245.6 794.2,246.5 794.9,247.5 C795.6,248.5 796.3,249.4 797.0,250.4 C797.7,251.4 798.4,252.4 799.1,253.3 C799.8,254.3 800.4,255.3 801.1,256.3 C801.8,257.2 802.5,258.2 803.2,259.2 C803.9,260.2 804.5,261.2 805.2,262.2 C805.9,263.2 806.6,264.2 807.2,265.2 C807.9,266.2 808.6,267.2 809.2,268.2 C809.9,269.2 810.6,270.2 811.2,271.2 C811.9,272.2 812.5,273.2 813.2,274.2 C813.8,275.2 814.5,276.3 815.1,277.3 C815.8,278.3 816.4,279.3 817.0,280.4 C817.7,281.4 818.3,282.4 818.9,283.5 C819.6,284.5 820.2,285.5 820.8,286.6 C821.5,287.6 822.1,288.7 822.7,289.7 C823.3,290.7 823.9,291.8 824.6,292.8 C825.2,293.9 825.8,295.0 826.4,296.0 C827.0,297.1 827.6,298.1 828.2,299.2 C828.8,300.2 829.4,301.3 830.0,302.4 C830.6,303.4 831.2,304.5 831.8,305.6 C832.4,306.6 833.0,307.7 833.6,308.8 C834.2,309.9 834.8,310.9 835.4,312.0 C836.0,313.1 836.6,314.2 837.2,315.2 C837.7,316.3 838.3,317.4 838.9,318.5 C839.5,319.6 840.1,320.7 840.6,321.8 C841.2,322.9 841.8,323.9 842.4,325.0 C842.9,326.1 843.5,327.2 844.1,328.3 C844.6,329.4 845.2,330.5 845.8,331.6 C846.3,332.7 846.9,333.8 847.4,335.0 C848.0,336.1 848.6,337.2 849.1,338.3 C849.7,339.4 850.2,340.5 850.8,341.6 C851.3,342.7 851.9,343.9 852.4,345.0 C853.0,346.1 853.5,347.2 854.0,348.4 C854.6,349.5 855.1,350.6 855.7,351.7 C856.2,352.9 856.7,354.0 857.3,355.1 C857.8,356.3 858.3,357.4 858.9,358.5 C859.4,359.7 859.9,360.8 860.5,361.9 C861.0,363.1 861.5,364.2 862.0,365.4 C862.6,366.5 863.1,367.7 863.6,368.8 C864.1,370.0 864.6,371.1 865.1,372.3 C865.7,373.4 866.2,374.6 866.7,375.7 C867.2,376.9 867.7,378.0 868.2,379.2 C868.7,380.4 869.2,381.5 869.7,382.7 C870.2,383.8 870.7,385.0 871.2,386.2 C871.7,387.3 872.2,388.5 872.7,389.7 C873.2,390.8 873.7,392.0 874.2,393.2 C874.7,394.4 875.2,395.5 875.7,396.7 C876.2,397.9 876.7,399.1 877.1,400.3 C877.6,401.4 878.1,402.6 878.6,403.8 C879.1,405.0 879.6,406.2 880.0,407.4 C880.5,408.6 881.0,409.7 881.5,410.9 C881.9,412.1 882.4,413.3 882.9,414.5 C883.4,415.7 883.8,416.9 884.3,418.1 C884.8,419.3 885.2,420.5 885.7,421.7 C886.2,422.9 886.6,424.1 887.1,425.3 C887.6,426.5 888.0,427.7 888.5,428.9 C889.0,430.1 889.4,431.3 889.9,432.5 C890.3,433.7 890.8,434.9 891.2,436.2 C891.7,437.4 892.2,438.6 892.6,439.8 C893.1,441.0 893.5,442.2 894.0,443.4 C894.4,444.7 894.9,445.9 895.3,447.1 C895.8,448.3 896.2,449.5 896.7,450.7 C897.1,452.0 897.5,453.2 898.0,454.4 C898.4,455.6 898.9,456.9 899.3,458.1 C899.8,459.3 900.2,460.5 900.6,461.8 C901.1,463.0 901.5,464.2 901.9,465.5 C902.4,466.7 902.8,467.9 903.3,469.1 C903.7,470.4 904.1,471.6 904.6,472.8 C905.0,474.1 905.4,475.3 905.9,476.5 C906.3,477.8 906.7,479.0 907.1,480.3 C907.6,481.5 908.0,482.7 908.4,484.0 C908.9,485.2 909.3,486.4 909.7,487.7 C910.1,488.9 910.6,490.2 911.0,491.4 C911.4,492.7 911.8,493.9 912.3,495.1 C912.7,496.4 913.1,497.6 913.5,498.9 C913.9,500.1 914.4,501.4 914.8,502.6 C915.2,503.9 915.6,505.1 916.0,506.4 C916.5,507.6 916.9,508.8 917.3,510.1 C917.7,511.3 918.1,512.6 918.6,513.8 C919.0,515.1 919.4,516.3 919.8,517.6 C920.2,518.8 920.6,520.1 921.1,521.3 C921.5,522.6 921.9,523.8 922.3,525.1 C922.7,526.3 923.1,527.6 923.5,528.9 C924.0,530.1 924.4,531.4 924.8,532.6 C925.2,533.9 925.6,535.1 926.0,536.4 C926.4,537.6 926.9,538.9 927.3,540.1 C927.7,541.4 928.1,542.6 928.5,543.9 C928.9,545.2 929.3,546.4 929.7,547.7 C930.1,548.9 930.6,550.2 931.0,551.4 C931.4,552.7 931.8,553.9 932.2,555.2 C932.6,556.5 933.0,557.7 933.4,559.0 C933.8,560.2 934.2,561.5 934.7,562.7 C935.1,564.0 935.5,565.3 935.9,566.5 C936.3,567.8 936.7,569.0 937.1,570.3 C937.5,571.6 937.9,572.8 938.3,574.1 C938.7,575.3 939.1,576.6 939.5,577.9 C940.0,579.1 940.4,580.4 940.8,581.6 C941.2,582.9 941.6,584.2 942.0,585.4 C942.4,586.7 942.8,587.9 943.2,589.2 C943.6,590.5 944.0,591.7 944.4,593.0 C944.8,594.3 945.2,595.5 945.6,596.8 C946.0,598.0 946.4,599.3 946.8,600.6 C947.2,601.8 947.6,603.1 948.0,604.4 C948.4,605.6 948.8,606.9 949.3,608.1 C949.7,609.4 950.1,610.7 950.5,611.9 C950.9,613.2 951.3,614.5 951.7,615.7 C952.1,617.0 952.5,618.3 952.9,619.5 C953.3,620.8 953.7,622.1 954.1,623.3 C954.5,624.6 954.9,625.9 955.3,627.1 C955.7,628.4 956.1,629.7 956.5,630.9 C956.9,632.2 957.2,633.5 957.6,634.8 C958.0,636.0 958.4,637.3 958.8,638.6 C959.2,639.8 959.6,641.1 960.0,642.4 C960.4,643.6 960.8,644.9 961.2,646.2 C961.6,647.5 962.0,648.7 962.4,650.0 C962.8,651.3 963.2,652.6 963.6,653.8 C964.0,655.1 964.3,656.4 964.7,657.7 C965.1,658.9 965.5,660.2 965.9,661.5 C966.3,662.8 966.7,664.0 967.1,665.3 C967.5,666.6 967.9,667.9 968.2,669.2 C968.6,670.4 969.0,671.7 969.4,673.0 C969.8,674.3 970.2,675.6 970.6,676.8 C970.9,678.1 971.3,679.4 971.7,680.7 C972.1,682.0 972.5,683.3 972.9,684.5 C973.2,685.8 973.6,687.1 974.0,688.4 C974.4,689.7 974.8,691.0 975.1,692.3 C975.5,693.6 975.9,694.8 976.3,696.1 C976.6,697.4 977.0,698.7 977.4,700.0 C977.8,701.3 978.2,702.6 978.5,703.9 C978.9,705.2 979.3,706.4 979.7,707.7 C980.0,709.0 980.4,710.3 980.8,711.6 C981.2,712.9 981.5,714.2 981.9,715.5 C982.3,716.8 982.7,718.1 983.0,719.4 C983.4,720.7 983.8,722.0 984.1,723.3 C984.5,724.5 984.9,725.8 985.3,727.1 C985.6,728.4 986.0,729.7 986.4,731.0 C986.8,732.3 987.1,733.6 987.5,734.9 C987.9,736.2 988.2,737.5 988.6,738.8 C989.0,740.1 989.4,741.4 989.7,742.7 C990.1,744.0 990.5,745.3 990.8,746.6 C991.2,747.9 991.6,749.2 991.9,750.5 C992.3,751.8 992.7,753.1 993.1,754.3 C993.4,755.6 993.8,756.9 994.2,758.2 C994.5,759.5 994.9,760.8 995.3,762.1 C995.6,763.4 996.0,764.7 996.4,766.0 C996.8,767.3 997.1,768.6 997.5,769.9 C997.9,771.2 998.2,772.5 998.6,773.8 C999.0,775.1 999.3,776.4 999.7,777.7 C1000.1,779.0 1000.5,780.3 1000.8,781.6 C1001.2,782.9 1001.6,784.2 1001.9,785.5 C1002.3,786.8 1002.7,788.1 1003.0,789.4 C1003.4,790.6 1003.8,791.9 1004.2,793.2 C1004.5,794.5 1004.9,795.8 1005.3,797.1 C1005.6,798.4 1006.0,799.7 1006.4,801.0 C1006.8,802.3 1007.1,803.6 1007.5,804.9 C1007.9,806.2 1008.3,807.5 1008.6,808.8 C1009.0,810.1 1009.4,811.4 1009.8,812.6 C1010.1,813.9 1010.5,815.2 1010.9,816.5 C1011.2,817.8 1011.6,819.1 1012.0,820.4 C1012.4,821.7 1012.8,823.0 1013.1,824.3 C1013.5,825.6 1013.9,826.9 1014.3,828.1 C1014.6,829.4 1015.0,830.7 1015.4,832.0 C1015.8,833.3 1016.1,834.6 1016.5,835.9 C1016.9,837.2 1017.3,838.4 1017.7,839.7 C1018.1,841.0 1018.4,842.3 1018.8,843.6 C1019.2,844.9 1019.6,846.1 1020.0,847.4 C1020.4,848.7 1020.8,850.0 1021.1,851.3 C1021.5,852.5 1021.9,853.8 1022.3,855.1 C1022.7,856.4 1023.1,857.6 1023.5,858.9 C1023.9,860.2 1024.3,861.4 1024.7,862.7 C1025.1,864.0 1025.5,865.2 1025.9,866.5 C1026.3,867.8 1026.7,869.0 1027.1,870.3 C1027.5,871.5 1027.9,872.8 1028.4,874.0 C1028.8,875.3 1029.2,876.5 1029.6,877.8 C1030.0,879.0 1030.4,880.3 1030.9,881.5 C1031.3,882.8 1031.7,884.0 1032.2,885.2 C1032.6,886.5 1033.0,887.7 1033.5,888.9 C1033.9,890.2 1034.3,891.4 1034.8,892.6 C1035.2,893.9 1035.7,895.1 1036.1,896.3 C1036.6,897.5 1037.0,898.7 1037.5,899.9 C1037.9,901.1 1038.4,902.3 1038.9,903.5 C1039.3,904.8 1039.8,905.9 1040.3,907.1 C1040.7,908.3 1041.2,909.5 1041.7,910.7 C1042.2,911.9 1042.7,913.1 1043.2,914.2 C1043.7,915.4 1044.2,916.6 1044.7,917.7 C1045.2,918.9 1045.7,920.1 1046.2,921.2 C1046.7,922.4 1047.2,923.5 1047.8,924.6 C1048.3,925.8 1048.8,926.9 1049.4,928.0 C1049.9,929.2 1050.4,930.3 1051.0,931.4 C1051.6,932.5 1052.1,933.6 1052.7,934.7 C1053.2,935.8 1053.8,936.9 1054.4,938.0 C1055.0,939.1 1055.6,940.2 1056.2,941.2 C1056.7,942.3 1057.3,943.4 1058.0,944.4 C1058.6,945.5 1059.2,946.6 1059.8,947.6 C1060.4,948.6 1061.1,949.7 1061.7,950.7 C1062.4,951.7 1063.0,952.7 1063.7,953.7 C1064.3,954.7 1065.0,955.7 1065.7,956.7 C1066.4,957.7 1067.1,958.7 1067.8,959.6 C1068.5,960.6 1069.2,961.5 1069.9,962.5 C1070.7,963.4 1071.4,964.3 1072.2,965.2 C1072.9,966.2 1073.7,967.1 1074.5,967.9 C1075.2,968.8 1076.0,969.7 1076.8,970.6 C1077.6,971.4 1078.4,972.3 1079.3,973.1 C1080.1,974.0 1080.9,974.8 1081.8,975.6 C1082.6,976.4 1083.5,977.2 1084.4,978.0 C1085.3,978.8 1086.2,979.6 1087.1,980.3 C1088.0,981.1 1088.9,981.8 1089.8,982.6 C1090.8,983.3 1091.7,984.0 1092.7,984.7 C1093.7,985.4 1094.7,986.1 1095.7,986.7 C1096.7,987.4 1097.7,988.0 1098.7,988.7 C1099.8,989.3 1100.8,989.9 1101.9,990.5 C1103.0,991.1 1104.1,991.7 1105.2,992.2 C1106.3,992.7 1107.5,993.3 1108.6,993.8 C1109.8,994.3 1111.0,994.8 1112.2,995.2 C1113.4,995.7 1114.6,996.1 1115.9,996.5 C1117.1,996.9 1118.4,997.3 1119.7,997.7 C1121.0,998.1 1122.3,998.4 1123.7,998.7 C1125.0,999.1 1126.4,999.4 1127.7,999.7 C1129.1,999.9 1130.5,1000.2 1131.9,1000.5 C1133.4,1000.7 1134.8,1000.9 1136.3,1001.1 C1137.7,1001.4 1139.2,1001.6 1140.7,1001.7 C1142.1,1001.9 1143.6,1002.1 1145.1,1002.3 C1146.7,1002.4 1148.2,1002.6 1149.7,1002.7 C1151.2,1002.8 1152.8,1002.9 1154.4,1003.0 C1155.9,1003.2 1157.5,1003.3 1159.0,1003.4 C1160.6,1003.4 1162.2,1003.5 1163.8,1003.6 C1165.4,1003.7 1167.0,1003.7 1168.6,1003.8 C1170.2,1003.9 1171.8,1003.9 1173.4,1004.0 C1175.0,1004.0 1176.7,1004.1 1178.3,1004.1 C1179.9,1004.2 1181.5,1004.2 1183.2,1004.2 C1184.8,1004.3 1186.4,1004.3 1188.1,1004.3 C1189.7,1004.4 1191.3,1004.4 1193.0,1004.4 C1194.6,1004.5 1196.2,1004.5 1197.9,1004.5 C1199.5,1004.6 1201.1,1004.6 1202.8,1004.6 C1204.4,1004.7 1206.0,1004.7 1207.7,1004.7 C1209.3,1004.8 1210.9,1004.8 1212.6,1004.8 C1214.2,1004.9 1215.8,1004.9 1217.5,1004.9 C1219.1,1004.9 1220.8,1005.0 1222.4,1005.0 C1224.0,1005.0 1225.7,1005.1 1227.3,1005.1 C1228.9,1005.1 1230.6,1005.1 1232.2,1005.2 C1233.9,1005.2 1235.5,1005.2 1237.1,1005.3 C1238.8,1005.3 1240.4,1005.3 1242.1,1005.3 C1243.7,1005.4 1245.4,1005.4 1247.0,1005.4 C1248.6,1005.4 1250.3,1005.5 1251.9,1005.5 C1253.6,1005.5 1255.2,1005.5 1256.8,1005.6 C1258.5,1005.6 1260.1,1005.6 1261.8,1005.6 C1263.4,1005.6 1265.1,1005.7 1266.7,1005.7 C1268.4,1005.7 1270.0,1005.7 1271.6,1005.8 C1273.3,1005.8 1274.9,1005.8 1276.6,1005.8 C1278.2,1005.8 1279.9,1005.9 1281.5,1005.9 C1283.2,1005.9 1284.8,1005.9 1286.5,1005.9 C1288.1,1006.0 1289.8,1006.0 1291.4,1006.0 C1293.1,1006.0 1294.7,1006.0 1296.4,1006.0 C1298.0,1006.1 1299.6,1006.1 1301.3,1006.1 C1302.9,1006.1 1304.6,1006.1 1306.2,1006.2 C1307.9,1006.2 1309.5,1006.2 1311.2,1006.2 C1312.8,1006.2 1314.5,1006.2 1316.1,1006.3 C1317.8,1006.3 1319.4,1006.3 1321.1,1006.3 C1322.7,1006.3 1324.4,1006.3 1326.0,1006.4 C1327.7,1006.4 1329.3,1006.4 1331.0,1006.4 C1332.6,1006.4 1334.3,1006.5 1335.9,1006.5 C1337.6,1006.5 1339.2,1006.5 1340.9,1006.5 C1342.5,1006.5 1344.2,1006.6 1345.8,1006.6 C1347.5,1006.6 1349.1,1006.6 1350.8,1006.6 C1352.4,1006.6 1354.1,1006.6 1355.7,1006.7 C1357.4,1006.7 1359.0,1006.7 1360.7,1006.7 C1362.3,1006.7 1364.0,1006.7 1365.6,1006.8 C1367.3,1006.8 1368.9,1006.8 1370.6,1006.8 C1372.2,1006.8 1374.0,1006.8 1375.5,1006.9 C1377.1,1006.9 1379.3,1006.9 1380.0,1006.9" stroke="#008000"/>
<path d="M190.0,92.4 C190.8,92.4 193.3,92.5 194.9,92.5 C196.6,92.5 198.2,92.5 199.8,92.6 C201.5,92.6 203.1,92.6 204.7,92.7 C206.4,92.7 208.0,92.7 209.6,92.8 C211.3,92.8 212.9,92.8 214.5,92.9 C216.2,92.9 217.8,92.9 219.5,92.9 C221.1,93.0 222.7,93.0 224.4,93.0 C226.0,93.1 227.6,93.1 229.3,93.1 C230.9,93.2 232.5,93.2 234.2,93.2 C235.8,93.3 237.4,93.3 239.1,93.3 C240.7,93.4 242.3,93.4 243.9,93.5 C245.6,93.5 247.2,93.5 248.8,93.6 C250.5,93.6 252.1,93.6 253.7,93.7 C255.4,93.7 257.0,93.8 258.6,93.8 C260.2,93.8 261.9,93.9 263.5,93.9 C265.1,93.9 266.7,94.0 268.4,94.0 C270.0,94.1 271.6,94.1 273.2,94.2 C274.9,94.2 276.5,94.2 278.1,94.3 C279.7,94.3 281.4,94.4 283.0,94.4 C284.6,94.5 286.2,94.5 287.9,94.5 C289.5,94.6 291.1,94.6 292.7,94.7 C294.4,94.7 296.0,94.8 297.6,94.8 C299.2,94.8 300.9,94.9 302.5,94.9 C304.1,95.0 305.7,95.0 307.4,95.0 C309.0,95.1 310.6,95.1 312.2,95.2 C313.8,95.2 315.5,95.3 317.1,95.3 C318.7,95.3 320.3,95.4 322.0,95.4 C323.6,95.5 325.2,95.5 326.8,95.6 C328.5,95.6 330.1,95.7 331.7,95.7 C333.3,95.7 334.9,95.8 336.6,95.8 C338.2,95.9 339.8,95.9 341.4,96.0 C343.1,96.0 344.7,96.1 346.3,96.1 C347.9,96.1 349.5,96.2 351.2,96.2 C352.8,96.3 354.4,96.3 356.0,96.4 C357.7,96.4 359.3,96.5 360.9,96.5 C362.5,96.6 364.1,96.6 365.7,96.7 C367.4,96.7 369.0,96.8 370.6,96.8 C372.2,96.8 373.8,96.9 375.4,97.0 C377.1,97.0 378.7,97.1 380.3,97.1 C381.9,97.2 383.5,97.2 385.1,97.3 C386.7,97.3 388.3,97.4 390.0,97.4 C391.6,97.5 393.2,97.6 394.8,97.6 C396.4,97.7 398.0,97.7 399.6,97.8 C401.2,97.9 402.8,97.9 404.4,98.0 C406.0,98.1 407.6,98.1 409.2,98.2 C410.8,98.3 412.4,98.3 414.0,98.4 C415.6,98.5 417.2,98.6 418.8,98.6 C420.4,98.7 421.9,98.8 423.5,98.9 C425.1,98.9 426.7,99.0 428.3,99.1 C429.9,99.2 431.5,99.3 433.0,99.4 C434.6,99.4 436.2,99.5 437.8,99.6 C439.4,99.7 440.9,99.8 442.5,99.9 C444.1,100.0 445.7,100.1 447.2,100.2 C448.8,100.3 450.4,100.4 451.9,100.5 C453.5,100.6 455.1,100.7 456.6,100.8 C458.2,100.9 459.8,101.0 461.3,101.1 C462.9,101.2 465.2,101.3 466.0,101.4" stroke="#008000" stroke-width="10.5"/>
<path d="M466.0,101.4 C466.8,101.5 469.1,101.6 470.7,101.7 C472.2,101.9 473.8,102.0 475.3,102.1 C476.8,102.2 478.4,102.4 479.9,102.5 C481.5,102.6 483.0,102.7 484.5,102.9 C486.1,103.0 487.6,103.1 489.1,103.3 C490.7,103.4 492.2,103.6 493.7,103.7 C495.2,103.8 496.7,104.0 498.3,104.1 C499.8,104.3 501.3,104.4 502.8,104.6 C504.3,104.8 505.8,104.9 507.3,105.1 C508.8,105.2 510.3,105.4 511.8,105.6 C513.3,105.7 514.8,105.9 516.3,106.1 C517.8,106.3 519.3,106.4 520.8,106.6 C522.3,106.8 523.8,107.0 525.2,107.2 C526.7,107.3 528.2,107.5 529.7,107.7 C531.2,107.9 532.6,108.1 534.1,108.3 C535.6,108.5 537.1,108.7 538.5,108.9 C540.0,109.1 541.5,109.3 542.9,109.5 C544.4,109.7 545.8,109.9 547.3,110.1 C548.8,110.3 550.2,110.5 551.7,110.7 C553.1,110.9 555.3,111.3 556.0,111.4" stroke="#008000" stroke-width="10.0"/>
<path d="M556.0,111.4 C556.8,111.5 558.9,111.8 560.4,112.0 C561.8,112.3 563.2,112.5 564.7,112.7 C566.1,113.0 567.5,113.2 569.0,113.4 C570.4,113.7 571.8,113.9 573.2,114.2 C574.7,114.4 576.1,114.7 577.5,114.9 C578.9,115.2 580.3,115.4 581.7,115.7 C583.1,116.0 584.5,116.2 585.9,116.5 C587.3,116.8 588.7,117.0 590.1,117.3 C591.4,117.6 592.8,117.9 594.2,118.2 C595.6,118.5 596.9,118.8 598.3,119.1 C599.7,119.4 601.0,119.7 602.4,120.0 C603.7,120.3 605.1,120.7 606.4,121.0 C607.7,121.3 609.1,121.7 610.4,122.0 C611.7,122.3 613.1,122.7 614.4,123.0 C615.7,123.4 617.0,123.7 618.3,124.1 C619.6,124.4 620.9,124.8 622.2,125.2 C623.5,125.5 624.8,125.9 626.1,126.3 C627.4,126.7 629.3,127.3 629.9,127.5" stroke="#008000" stroke-width="9.3"/>
</g>
<g fill="#000">
<rect x="172" y="35" width="1209" height="5"/>
<rect x="172" y="1041" width="1209" height="5.5"/>
<rect x="188" y="35" width="5.3" height="1027.5"/>
<rect x="1375.5" y="35" width="5.2" height="1027.5"/>
<rect x="172" y="839.6" width="17" height="5.2"/>
<rect x="172" y="638.2" width="17" height="5.2"/>
<rect x="172" y="436.7" width="17" height="5.2"/>
<rect x="172" y="235.3" width="17" height="5.2"/>
<rect x="180" y="940.3" width="9" height="5.2"/>
<rect x="180" y="738.9" width="9" height="5.2"/>
<rect x="180" y="537.4" width="9" height="5.2"/>
<rect x="180" y="336.0" width="9" height="5.2"/>
<rect x="180" y="134.6" width="9" height="5.2"/>
<rect x="425.5" y="1045" width="5" height="17.5"/>
<rect x="663.0" y="1045" width="5" height="17.5"/>
<rect x="900.5" y="1045" width="5" height="17.5"/>
<rect x="1138.0" y="1045" width="5" height="17.5"/>
<rect x="306.8" y="1045" width="5" height="7"/>
<rect x="544.2" y="1045" width="5" height="7"/>
<rect x="781.8" y="1045" width="5" height="7"/>
<rect x="1019.2" y="1045" width="5" height="7"/>
<rect x="1256.8" y="1045" width="5" height="7"/>
</g>
<text x="157.3" y="50.5" font-size="44.5" text-anchor="end" textLength="72.5" lengthAdjust="spacingAndGlyphs" stroke="#000" stroke-width="0.9">100</text>
<text x="157.3" y="251.4" font-size="44.5" text-anchor="end" textLength="47.0" lengthAdjust="spacingAndGlyphs" stroke="#000" stroke-width="0.9">80</text>
<text x="157.3" y="452.2" font-size="44.5" text-anchor="end" textLength="47.0" lengthAdjust="spacingAndGlyphs" stroke="#000" stroke-width="0.9">60</text>
<text x="157.3" y="653.5" font-size="44.5" text-anchor="end" textLength="47.0" lengthAdjust="spacingAndGlyphs" stroke="#000" stroke-width="0.9">40</text>
<text x="157.3" y="855.5" font-size="44.5" text-anchor="end" textLength="47.0" lengthAdjust="spacingAndGlyphs" stroke="#000" stroke-width="0.9">20</text>
<text x="157.3" y="1056.5" font-size="44.5" text-anchor="end" textLength="23.5" lengthAdjust="spacingAndGlyphs" stroke="#000" stroke-width="0.9">0</text>
<text x="189.5" y="1112" font-size="46.5" text-anchor="middle" textLength="70" lengthAdjust="spacingAndGlyphs" stroke="#000" stroke-width="0.9">300</text>
<text x="427.0" y="1112" font-size="46.5" text-anchor="middle" textLength="70" lengthAdjust="spacingAndGlyphs" stroke="#000" stroke-width="0.9">320</text>
<text x="664.5" y="1112" font-size="46.5" text-anchor="middle" textLength="70" lengthAdjust="spacingAndGlyphs" stroke="#000" stroke-width="0.9">340</text>
<text x="902.0" y="1112" font-size="46.5" text-anchor="middle" textLength="70" lengthAdjust="spacingAndGlyphs" stroke="#000" stroke-width="0.9">360</text>
<text x="1139.5" y="1112" font-size="46.5" text-anchor="middle" textLength="70" lengthAdjust="spacingAndGlyphs" stroke="#000" stroke-width="0.9">380</text>
<text x="1377.0" y="1112" font-size="46.5" text-anchor="middle" textLength="70" lengthAdjust="spacingAndGlyphs" stroke="#000" stroke-width="0.9">400</text>
<text x="559.5" y="1207.8" font-size="57.5" font-weight="bold" textLength="369.5" lengthAdjust="spacingAndGlyphs">Temperature (</text>
<ellipse cx="939.5" cy="1175.2" rx="5.2" ry="6.6" fill="none" stroke="#000" stroke-width="2.7"/>
<text x="951.8" y="1207.8" font-size="57.5" font-weight="bold" textLength="58.5" lengthAdjust="spacingAndGlyphs">C)</text>
<text transform="translate(63.7,666.7) rotate(-90)" font-size="56" font-weight="bold" textLength="252" lengthAdjust="spacingAndGlyphs">weight %</text>
<rect x="1305.2" y="51.4" width="54" height="68.5" fill="none" stroke="#000" stroke-width="5.3"/>
<text x="1317.5" y="105.8" font-size="59" font-weight="bold">b</text>
<text x="341.6" y="780.9" font-size="42" font-weight="bold" textLength="199.1" lengthAdjust="spacingAndGlyphs">Neat lignin</text>
<text x="341.6" y="832.9" font-size="42" font-weight="bold" textLength="240.2" lengthAdjust="spacingAndGlyphs">PLLA_Lignin</text>
<text x="341.6" y="884.7" font-size="42" font-weight="bold" textLength="454.5" lengthAdjust="spacingAndGlyphs">PLLA_Lignin_C30B (1:1)</text>
<text x="341.6" y="936.8" font-size="42" font-weight="bold" textLength="454.5" lengthAdjust="spacingAndGlyphs">PLLA_Lignin_C30B (1:2)</text>
<text x="341.6" y="989.2" font-size="42" font-weight="bold" textLength="454.5" lengthAdjust="spacingAndGlyphs">PLLA_Lignin_C30B (2:1)</text>
<rect x="239" y="765.1" width="94.7" height="5.5" fill="#000"/>
<rect x="282.4" y="762" width="8.1" height="3.1" fill="#7a7470"/>
<rect x="239" y="817.1" width="94.7" height="5.3" fill="#ff0000"/>
<rect x="285.1" y="814" width="2.9" height="3.1" fill="#ff0000"/>
<rect x="239" y="869" width="94.7" height="3.2" fill="#0000ff"/><rect x="242" y="872.2" width="91.7" height="2.4" fill="#3333ff"/>
<rect x="285.1" y="866" width="2.9" height="3.0" fill="#0000ff"/>
<rect x="239" y="921.1" width="94.8" height="2.8" fill="#ff00ff"/><rect x="242" y="923.9" width="91.8" height="2.1" fill="#f6c0f0"/>
<rect x="282.1" y="917.9" width="8.4" height="3.2" fill="#f020f0"/><rect x="284.9" y="923.9" width="3.1" height="2.1" fill="#ff00ff"/>
<rect x="239" y="972.7" width="94.8" height="2.8" fill="#008000"/><rect x="242" y="970" width="91.8" height="2.7" fill="#c0dcc0"/>
<rect x="284.9" y="970" width="3.1" height="8" fill="#008000"/>
</svg></body></html>
